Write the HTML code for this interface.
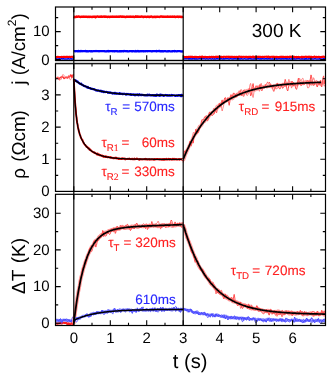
<!DOCTYPE html>
<html><head><meta charset="utf-8"><title>figure</title>
<style>
html,body{margin:0;padding:0;background:#fff;}
svg{display:block;font-family:"Liberation Sans",sans-serif;text-rendering:geometricPrecision;}
</style></head><body>
<svg width="332" height="383" viewBox="0 0 332 383">
<rect width="332" height="383" fill="#fff"/>
<rect x="55.0" y="60.8" width="271.0" height="2.6" fill="#d2d2d2"/>
<defs>
<clipPath id="c1"><rect x="55.5" y="7.0" width="270.0" height="53.4"/></clipPath>
<clipPath id="c2"><rect x="55.5" y="63.7" width="270.0" height="127.7"/></clipPath>
<clipPath id="c3"><rect x="55.5" y="194.3" width="270.0" height="131.2"/></clipPath>
</defs>
<g clip-path="url(#c1)"><polyline points="55.9,58.8 56.5,58.8 57.0,58.9 57.5,58.9 58.0,58.9 58.6,59.0 59.1,58.8 59.6,58.7 60.1,58.9 60.7,58.9 61.2,58.8 61.7,58.8 62.2,58.8 62.8,58.9 63.3,58.8 63.8,58.8 64.3,59.0 64.9,58.9 65.4,59.1 65.9,59.0 66.4,59.1 67.0,58.9 67.5,59.0 68.0,58.8 68.5,58.8 69.1,58.9 69.6,59.1 70.1,58.9 70.6,58.8 71.2,58.8 71.7,59.0 72.2,58.9 72.7,59.0 73.3,58.9 73.8,58.7" fill="none" stroke="#0000ff" stroke-width="1.5" stroke-linejoin="round" /><polyline points="73.8,51.3 74.3,51.2 74.8,51.1 75.3,51.3 75.8,51.2 76.3,51.2 76.8,51.2 77.3,51.3 77.8,51.2 78.3,51.0 78.8,51.4 79.3,51.1 79.9,51.2 80.4,51.3 80.9,51.0 81.4,51.1 81.9,51.3 82.4,51.2 82.9,51.1 83.4,51.2 83.9,51.1 84.4,51.2 84.9,51.1 85.4,51.0 85.9,51.3 86.4,51.2 86.9,51.3 87.4,51.2 87.9,51.3 88.4,51.3 88.9,51.2 89.4,51.1 89.9,51.1 90.4,51.3 90.9,51.3 91.4,51.1 92.0,51.4 92.5,51.3 93.0,51.2 93.5,51.1 94.0,51.1 94.5,51.2 95.0,51.2 95.5,51.2 96.0,51.0 96.5,51.2 97.0,51.2 97.5,51.2 98.0,51.2 98.5,51.2 99.0,51.3 99.5,51.2 100.0,51.2 100.5,51.1 101.0,51.1 101.5,51.2 102.0,51.1 102.5,51.2 103.0,51.1 103.5,51.2 104.1,51.1 104.6,51.3 105.1,51.2 105.6,51.4 106.1,51.4 106.6,51.2 107.1,51.3 107.6,51.2 108.1,50.9 108.6,51.3 109.1,51.3 109.6,51.2 110.1,51.1 110.6,51.2 111.1,51.2 111.6,51.1 112.1,51.1 112.6,51.3 113.1,51.2 113.6,51.2 114.1,51.3 114.6,51.2 115.1,51.3 115.6,51.1 116.2,51.2 116.7,51.2 117.2,51.3 117.7,51.2 118.2,51.4 118.7,51.3 119.2,51.2 119.7,51.4 120.2,51.1 120.7,51.4 121.2,51.1 121.7,51.3 122.2,51.1 122.7,51.2 123.2,51.4 123.7,51.1 124.2,51.0 124.7,51.2 125.2,51.2 125.7,51.2 126.2,51.3 126.7,51.1 127.2,51.3 127.7,51.2 128.3,51.3 128.8,51.3 129.3,51.3 129.8,51.1 130.3,51.2 130.8,51.1 131.3,51.2 131.8,51.3 132.3,51.2 132.8,51.3 133.3,51.2 133.8,51.2 134.3,51.2 134.8,51.4 135.3,51.3 135.8,51.0 136.3,51.3 136.8,51.3 137.3,51.2 137.8,51.0 138.3,51.4 138.8,51.2 139.3,51.3 139.8,51.4 140.4,51.1 140.9,51.2 141.4,51.2 141.9,51.3 142.4,51.1 142.9,51.3 143.4,51.2 143.9,51.3 144.4,51.3 144.9,51.1 145.4,51.3 145.9,51.2 146.4,51.2 146.9,51.2 147.4,51.3 147.9,51.1 148.4,51.2 148.9,51.2 149.4,51.2 149.9,51.1 150.4,51.1 150.9,51.2 151.4,51.3 151.9,51.4 152.5,51.1 153.0,51.1 153.5,51.2 154.0,51.1 154.5,51.1 155.0,51.1 155.5,51.1 156.0,51.3 156.5,51.0 157.0,51.3 157.5,51.1 158.0,51.1 158.5,51.1 159.0,51.0 159.5,51.0 160.0,51.3 160.5,51.4 161.0,51.1 161.5,51.3 162.0,51.2 162.5,51.1 163.0,51.4 163.5,51.4 164.1,51.2 164.6,51.2 165.1,51.2 165.6,51.2 166.1,51.3 166.6,51.4 167.1,51.2 167.6,51.3 168.1,51.4 168.6,51.1 169.1,51.2 169.6,51.2 170.1,51.3 170.6,51.3 171.1,51.3 171.6,51.3 172.1,51.2 172.6,51.3 173.1,51.2 173.6,51.2 174.1,51.0 174.6,51.4 175.1,51.1 175.6,51.2 176.2,51.2 176.7,51.4 177.2,51.3 177.7,51.1 178.2,51.2 178.7,51.2 179.2,51.2 179.7,51.1 180.2,51.2 180.7,51.4 181.2,51.3 181.7,51.4 182.2,51.6 182.7,51.3 183.2,51.1" fill="none" stroke="#0000ff" stroke-width="2.3" stroke-linejoin="round" /><polyline points="183.2,58.8 183.7,59.0 184.2,58.9 184.7,58.7 185.2,58.8 185.7,58.8 186.2,58.8 186.7,58.8 187.2,58.8 187.7,58.8 188.2,58.8 188.7,59.0 189.2,58.8 189.7,58.9 190.2,58.7 190.7,59.0 191.3,58.9 191.8,58.8 192.3,59.0 192.8,58.7 193.3,58.7 193.8,58.9 194.3,58.8 194.8,58.8 195.3,59.1 195.8,58.8 196.3,58.9 196.8,58.8 197.3,59.0 197.8,58.9 198.3,58.9 198.8,58.7 199.3,58.8 199.8,58.8 200.3,58.7 200.8,58.9 201.3,58.9 201.8,59.0 202.3,58.7 202.8,58.7 203.3,58.7 203.8,58.8 204.3,58.8 204.8,58.8 205.3,58.9 205.8,58.9 206.3,58.8 206.8,58.7 207.3,58.8 207.8,58.9 208.3,58.9 208.8,58.9 209.3,58.7 209.8,58.8 210.3,58.8 210.9,58.9 211.4,59.0 211.9,58.9 212.4,58.7 212.9,58.9 213.4,58.9 213.9,58.9 214.4,58.8 214.9,59.0 215.4,58.9 215.9,58.9 216.4,58.7 216.9,58.9 217.4,58.8 217.9,58.7 218.4,58.9 218.9,58.9 219.4,58.8 219.9,58.8 220.4,59.0 220.9,58.8 221.4,58.6 221.9,58.9 222.4,58.9 222.9,59.0 223.4,58.8 223.9,59.0 224.4,59.0 224.9,58.7 225.4,58.9 225.9,58.7 226.4,58.7 226.9,58.8 227.4,58.8 227.9,58.6 228.4,58.9 228.9,58.9 229.4,59.0 230.0,58.8 230.5,58.7 231.0,58.7 231.5,58.9 232.0,58.9 232.5,58.9 233.0,58.8 233.5,58.9 234.0,58.8 234.5,58.8 235.0,58.9 235.5,58.8 236.0,58.8 236.5,58.9 237.0,58.8 237.5,58.6 238.0,58.8 238.5,58.8 239.0,59.0 239.5,58.8 240.0,59.1 240.5,59.0 241.0,58.7 241.5,58.8 242.0,58.9 242.5,59.0 243.0,58.9 243.5,58.9 244.0,58.8 244.5,58.6 245.0,58.8 245.5,58.9 246.0,59.0 246.5,58.9 247.0,58.9 247.5,59.0 248.0,58.8 248.5,59.0 249.0,58.7 249.6,58.7 250.1,58.7 250.6,58.9 251.1,58.8 251.6,58.9 252.1,58.9 252.6,58.9 253.1,59.0 253.6,59.0 254.1,58.8 254.6,58.9 255.1,58.8 255.6,58.7 256.1,59.0 256.6,58.9 257.1,58.8 257.6,58.8 258.1,58.9 258.6,58.7 259.1,58.8 259.6,59.0 260.1,58.9 260.6,58.8 261.1,58.8 261.6,59.1 262.1,58.7 262.6,58.8 263.1,58.7 263.6,58.9 264.1,58.9 264.6,59.0 265.1,58.6 265.6,58.9 266.1,58.7 266.6,58.9 267.1,58.8 267.6,59.0 268.1,58.9 268.7,58.7 269.2,59.0 269.7,58.7 270.2,58.8 270.7,59.0 271.2,58.9 271.7,58.9 272.2,58.8 272.7,58.9 273.2,58.9 273.7,58.9 274.2,59.0 274.7,59.0 275.2,58.8 275.7,58.7 276.2,59.0 276.7,58.8 277.2,58.9 277.7,59.0 278.2,58.7 278.7,58.9 279.2,58.7 279.7,58.9 280.2,58.8 280.7,58.9 281.2,58.9 281.7,58.8 282.2,58.9 282.7,58.8 283.2,58.8 283.7,59.0 284.2,58.9 284.7,58.8 285.2,58.7 285.7,58.9 286.2,58.8 286.7,59.0 287.2,58.8 287.7,59.0 288.3,59.0 288.8,58.9 289.3,58.7 289.8,59.0 290.3,59.0 290.8,58.9 291.3,59.0 291.8,58.8 292.3,58.9 292.8,58.9 293.3,58.8 293.8,58.9 294.3,58.8 294.8,59.0 295.3,59.0 295.8,59.0 296.3,58.6 296.8,58.9 297.3,58.8 297.8,58.8 298.3,58.8 298.8,58.8 299.3,58.6 299.8,59.0 300.3,59.0 300.8,59.0 301.3,59.0 301.8,58.8 302.3,58.8 302.8,59.0 303.3,59.0 303.8,58.9 304.3,58.7 304.8,59.2 305.3,58.8 305.8,59.0 306.3,58.7 306.8,59.0 307.3,58.9 307.9,59.0 308.4,59.0 308.9,58.7 309.4,58.8 309.9,58.9 310.4,58.9 310.9,59.1 311.4,58.9 311.9,58.8 312.4,58.9 312.9,58.9 313.4,59.0 313.9,58.9 314.4,58.8 314.9,58.7 315.4,58.6 315.9,58.9 316.4,58.9 316.9,58.9 317.4,58.9 317.9,58.9 318.4,58.9 318.9,59.0 319.4,58.8 319.9,58.9 320.4,58.8 320.9,58.9 321.4,58.9 321.9,59.0 322.4,58.9 322.9,58.9 323.4,58.8 323.9,58.8 324.4,59.0 324.9,58.8 325.4,59.0" fill="none" stroke="#0000ff" stroke-width="1.5" stroke-linejoin="round" /><polyline points="55.9,57.0 56.5,57.0 57.0,57.3 57.5,56.9 58.0,56.9 58.6,57.0 59.1,57.0 59.6,57.0 60.1,57.1 60.7,57.0 61.2,57.0 61.7,56.9 62.2,57.1 62.8,56.9 63.3,56.9 63.8,57.0 64.3,57.0 64.9,56.8 65.4,57.2 65.9,56.9 66.4,56.9 67.0,56.9 67.5,56.9 68.0,57.0 68.5,57.0 69.1,56.8 69.6,56.9 70.1,56.9 70.6,57.2 71.2,56.8 71.7,56.7 72.2,56.8 72.7,56.9 73.3,57.2 73.8,56.8" fill="none" stroke="#ff0000" stroke-width="2.1" stroke-linejoin="round" /><polyline points="73.8,16.8 74.3,17.2 74.8,16.7 75.3,17.0 75.8,17.0 76.3,16.9 76.8,16.5 77.3,16.8 77.8,16.7 78.3,16.5 78.8,16.5 79.3,16.8 79.9,16.8 80.4,17.0 80.9,16.9 81.4,16.7 81.9,16.7 82.4,16.7 82.9,16.6 83.4,16.9 83.9,16.8 84.4,16.6 84.9,16.7 85.4,16.6 85.9,16.7 86.4,16.8 86.9,16.7 87.4,16.9 87.9,17.0 88.4,16.7 88.9,16.8 89.4,16.7 89.9,17.0 90.4,16.8 90.9,16.9 91.4,16.9 92.0,17.1 92.5,16.8 93.0,16.6 93.5,16.7 94.0,16.9 94.5,16.8 95.0,16.6 95.5,17.2 96.0,16.8 96.5,16.7 97.0,16.6 97.5,16.5 98.0,16.6 98.5,16.7 99.0,16.7 99.5,16.6 100.0,16.9 100.5,16.8 101.0,16.6 101.5,16.4 102.0,16.8 102.5,16.8 103.0,16.7 103.5,16.5 104.1,16.8 104.6,16.5 105.1,16.9 105.6,16.8 106.1,16.8 106.6,16.6 107.1,16.6 107.6,17.0 108.1,16.9 108.6,16.7 109.1,16.9 109.6,17.0 110.1,16.6 110.6,16.7 111.1,16.7 111.6,16.8 112.1,16.6 112.6,16.8 113.1,16.6 113.6,16.9 114.1,16.9 114.6,16.7 115.1,16.9 115.6,16.6 116.2,16.7 116.7,16.9 117.2,16.7 117.7,16.8 118.2,16.6 118.7,16.9 119.2,16.8 119.7,16.6 120.2,16.4 120.7,16.4 121.2,16.7 121.7,16.7 122.2,16.5 122.7,16.8 123.2,16.9 123.7,16.7 124.2,16.7 124.7,16.9 125.2,17.0 125.7,17.0 126.2,16.6 126.7,16.9 127.2,16.8 127.7,16.7 128.3,16.7 128.8,16.8 129.3,16.7 129.8,16.9 130.3,16.8 130.8,16.9 131.3,16.6 131.8,16.8 132.3,16.9 132.8,16.8 133.3,16.8 133.8,16.6 134.3,17.0 134.8,16.9 135.3,16.8 135.8,16.3 136.3,16.6 136.8,16.8 137.3,16.6 137.8,16.4 138.3,16.8 138.8,16.8 139.3,16.6 139.8,16.7 140.4,16.6 140.9,16.8 141.4,16.4 141.9,16.5 142.4,16.7 142.9,16.6 143.4,17.1 143.9,16.7 144.4,16.8 144.9,16.7 145.4,16.6 145.9,16.8 146.4,17.0 146.9,16.7 147.4,16.9 147.9,16.8 148.4,16.9 148.9,16.8 149.4,17.1 149.9,16.6 150.4,16.7 150.9,16.6 151.4,16.4 151.9,16.8 152.5,17.1 153.0,16.9 153.5,17.0 154.0,16.8 154.5,16.7 155.0,17.1 155.5,16.7 156.0,17.0 156.5,16.7 157.0,16.8 157.5,16.8 158.0,16.8 158.5,16.9 159.0,16.9 159.5,17.0 160.0,16.8 160.5,16.4 161.0,16.4 161.5,16.5 162.0,16.6 162.5,16.9 163.0,16.5 163.5,16.8 164.1,16.8 164.6,16.8 165.1,16.7 165.6,16.8 166.1,16.8 166.6,16.9 167.1,16.8 167.6,16.4 168.1,16.8 168.6,16.8 169.1,16.7 169.6,16.6 170.1,16.9 170.6,16.8 171.1,16.6 171.6,16.7 172.1,16.7 172.6,16.5 173.1,16.9 173.6,16.7 174.1,16.8 174.6,16.5 175.1,17.1 175.6,16.9 176.2,16.8 176.7,16.6 177.2,16.7 177.7,16.5 178.2,17.0 178.7,16.6 179.2,16.8 179.7,16.9 180.2,16.7 180.7,16.9 181.2,17.1 181.7,16.8 182.2,17.0 182.7,16.9 183.2,16.7" fill="none" stroke="#ff0000" stroke-width="2.4" stroke-linejoin="round" /><polyline points="183.2,56.9 183.7,56.7 184.2,57.0 184.7,57.2 185.2,57.1 185.7,57.1 186.2,57.1 186.7,56.9 187.2,57.0 187.7,57.3 188.2,56.8 188.7,57.0 189.2,56.9 189.7,56.9 190.2,56.8 190.7,56.9 191.3,56.7 191.8,56.9 192.3,56.9 192.8,56.9 193.3,57.2 193.8,57.0 194.3,57.0 194.8,56.9 195.3,57.2 195.8,56.7 196.3,56.9 196.8,57.1 197.3,57.2 197.8,57.0 198.3,57.0 198.8,57.1 199.3,56.9 199.8,57.0 200.3,56.8 200.8,57.1 201.3,56.9 201.8,56.8 202.3,56.5 202.8,57.1 203.3,57.0 203.8,57.1 204.3,56.8 204.8,57.1 205.3,57.0 205.8,56.9 206.3,57.1 206.8,57.1 207.3,57.0 207.8,57.3 208.3,57.2 208.8,57.0 209.3,56.9 209.8,57.0 210.3,57.2 210.9,57.0 211.4,56.8 211.9,56.8 212.4,57.0 212.9,57.1 213.4,56.8 213.9,57.0 214.4,57.1 214.9,57.1 215.4,56.7 215.9,56.9 216.4,56.7 216.9,57.0 217.4,56.8 217.9,57.0 218.4,57.0 218.9,56.5 219.4,56.8 219.9,57.0 220.4,57.0 220.9,56.9 221.4,56.7 221.9,57.0 222.4,57.2 222.9,57.0 223.4,56.9 223.9,56.9 224.4,56.7 224.9,56.9 225.4,56.8 225.9,57.1 226.4,56.8 226.9,56.6 227.4,56.8 227.9,56.9 228.4,56.9 228.9,56.6 229.4,57.1 230.0,57.0 230.5,56.9 231.0,56.8 231.5,57.0 232.0,56.9 232.5,57.0 233.0,56.9 233.5,57.0 234.0,57.1 234.5,56.9 235.0,56.8 235.5,57.1 236.0,57.0 236.5,56.8 237.0,57.1 237.5,56.9 238.0,57.1 238.5,56.7 239.0,56.6 239.5,56.6 240.0,57.0 240.5,56.8 241.0,56.9 241.5,56.9 242.0,56.7 242.5,57.2 243.0,56.8 243.5,56.9 244.0,56.7 244.5,56.9 245.0,57.1 245.5,56.9 246.0,56.8 246.5,56.9 247.0,56.9 247.5,57.0 248.0,57.3 248.5,56.8 249.0,56.8 249.6,56.9 250.1,56.9 250.6,56.8 251.1,57.0 251.6,57.1 252.1,57.0 252.6,56.7 253.1,57.2 253.6,56.7 254.1,57.0 254.6,57.1 255.1,56.7 255.6,57.0 256.1,57.2 256.6,57.0 257.1,56.8 257.6,56.7 258.1,57.0 258.6,56.9 259.1,56.8 259.6,57.0 260.1,56.9 260.6,56.9 261.1,57.0 261.6,57.0 262.1,56.9 262.6,56.9 263.1,57.0 263.6,57.0 264.1,56.8 264.6,56.9 265.1,56.8 265.6,56.7 266.1,56.8 266.6,56.6 267.1,57.1 267.6,56.8 268.1,57.0 268.7,56.6 269.2,56.7 269.7,57.3 270.2,57.1 270.7,56.8 271.2,56.8 271.7,56.8 272.2,57.0 272.7,56.9 273.2,56.8 273.7,57.0 274.2,56.8 274.7,57.3 275.2,56.8 275.7,57.1 276.2,56.8 276.7,57.0 277.2,57.1 277.7,56.9 278.2,57.1 278.7,57.1 279.2,57.2 279.7,56.9 280.2,56.9 280.7,56.8 281.2,57.0 281.7,56.8 282.2,56.9 282.7,57.0 283.2,56.8 283.7,56.8 284.2,57.0 284.7,57.0 285.2,57.0 285.7,56.9 286.2,57.1 286.7,56.8 287.2,57.0 287.7,56.9 288.3,57.1 288.8,56.9 289.3,56.9 289.8,57.0 290.3,56.6 290.8,56.9 291.3,56.6 291.8,56.8 292.3,57.1 292.8,57.0 293.3,56.9 293.8,56.9 294.3,56.9 294.8,57.0 295.3,57.2 295.8,57.0 296.3,57.3 296.8,56.9 297.3,57.1 297.8,57.1 298.3,57.0 298.8,56.9 299.3,57.2 299.8,57.2 300.3,57.1 300.8,57.3 301.3,57.1 301.8,56.7 302.3,57.1 302.8,56.8 303.3,57.2 303.8,56.9 304.3,57.0 304.8,57.0 305.3,56.8 305.8,56.6 306.3,56.9 306.8,56.9 307.3,57.1 307.9,56.8 308.4,57.0 308.9,56.8 309.4,56.9 309.9,56.6 310.4,57.3 310.9,57.0 311.4,56.8 311.9,57.0 312.4,57.1 312.9,57.0 313.4,57.2 313.9,56.9 314.4,56.5 314.9,56.7 315.4,57.1 315.9,57.1 316.4,57.0 316.9,56.8 317.4,57.1 317.9,57.1 318.4,56.8 318.9,56.8 319.4,57.0 319.9,57.1 320.4,57.2 320.9,57.1 321.4,57.3 321.9,56.8 322.4,57.0 322.9,56.9 323.4,56.6 323.9,56.7 324.4,57.1 324.9,56.8 325.4,56.7" fill="none" stroke="#ff0000" stroke-width="2.1" stroke-linejoin="round" /></g>
<g clip-path="url(#c2)"><polyline points="55.9,78.3 56.6,78.3 57.3,77.9 57.9,77.6 58.6,79.0 59.2,79.2 59.9,77.9 60.6,77.4 61.2,77.0 61.9,77.0 62.5,76.8 63.2,77.2 63.9,78.5 64.5,78.3 65.2,77.7 65.9,77.3 66.5,77.3 67.2,78.1 67.8,77.8 68.5,76.7 69.2,76.9 69.8,76.8 70.5,74.9 71.2,75.1 71.8,77.3 72.5,76.5 73.1,74.7 73.8,75.4" fill="none" stroke="#ff3030" stroke-width="1.4" stroke-linejoin="round" /><polyline points="55.9,78.8 56.6,78.8 57.3,77.8 57.9,76.6 58.6,77.7 59.2,79.9 59.9,80.3 60.6,79.5 61.2,79.4 61.9,77.4 62.5,74.8 63.2,74.7 63.9,75.3 64.5,75.8 65.2,76.8 65.9,77.7 66.5,77.2 67.2,77.1 67.8,77.3 68.5,75.4 69.2,76.5 69.8,79.3 70.5,79.8 71.2,79.0 71.8,78.3 72.5,77.3 73.1,76.3 73.8,80.1" fill="none" stroke="#ff6a6a" stroke-width="0.8" stroke-linejoin="round" /><polyline points="73.8,79.6 74.1,80.2 74.5,80.0 74.8,79.9 75.1,80.3 75.5,81.0 75.8,81.1 76.1,80.7 76.5,81.3 76.8,81.6 77.1,81.6 77.5,81.4 77.8,81.9 78.1,82.4 78.5,82.6 78.8,82.7 79.2,83.3 79.5,83.6 79.8,83.5 80.2,83.9 80.5,83.9 80.8,84.0 81.2,83.6 81.5,84.6 81.8,84.6 82.2,84.8 82.5,84.8 82.8,84.8 83.2,85.4 83.5,85.7 83.8,86.0 84.2,86.0 84.5,85.8 84.8,86.1 85.2,86.5 85.5,86.5 85.8,86.5 86.2,86.5 86.5,87.0 86.8,87.0 87.2,87.6 87.5,87.5 87.9,86.9 88.2,88.0 88.5,87.7 88.9,87.7 89.2,88.0 89.5,88.2 89.9,88.1 90.2,88.2 90.5,88.4 90.9,88.9 91.2,88.6 91.5,88.9 91.9,88.9 92.2,88.8 92.5,88.8 92.9,88.9 93.2,89.3 93.5,89.1 93.9,89.1 94.2,89.2 94.5,89.3 94.9,89.7 95.2,89.8 95.5,89.7 95.9,90.3 96.2,90.0 96.6,90.3 96.9,90.3 97.2,90.8 97.6,90.6 97.9,90.5 98.2,90.3 98.6,90.4 98.9,90.7 99.2,90.9 99.6,91.1 99.9,90.9 100.2,91.1 100.6,90.9 100.9,90.7 101.2,91.3 101.6,91.7 101.9,91.6 102.2,91.8 102.6,91.8 102.9,91.2 103.2,91.6 103.6,92.1 103.9,91.6 104.2,91.5 104.6,92.0 104.9,92.1 105.3,92.1 105.6,92.0 105.9,91.9 106.3,91.9 106.6,91.9 106.9,92.0 107.3,92.0 107.6,92.2 107.9,92.8 108.3,92.5 108.6,92.4 108.9,92.7 109.3,92.4 109.6,92.8 109.9,93.0 110.3,92.4 110.6,92.6 110.9,92.8 111.3,92.7 111.6,92.7 111.9,92.9 112.3,93.6 112.6,93.2 112.9,93.2 113.3,93.4 113.6,93.1 114.0,92.9 114.3,93.4 114.6,93.6 115.0,92.8 115.3,93.5 115.6,93.7 116.0,93.4 116.3,93.3 116.6,93.7 117.0,93.3 117.3,93.7 117.6,93.8 118.0,93.6 118.3,93.5 118.6,93.8 119.0,93.6 119.3,93.8 119.6,93.0 120.0,94.0 120.3,93.5 120.6,93.9 121.0,93.9 121.3,93.7 121.6,93.7 122.0,93.6 122.3,93.9 122.6,94.2 123.0,94.2 123.3,93.9 123.7,93.9 124.0,93.7 124.3,94.0 124.7,93.9 125.0,93.8 125.3,94.2 125.7,94.6 126.0,94.5 126.3,94.6 126.7,93.9 127.0,94.5 127.3,94.0 127.7,94.2 128.0,93.9 128.3,94.1 128.7,94.4 129.0,94.5 129.3,94.4 129.7,94.4 130.0,94.6 130.3,94.5 130.7,94.1 131.0,95.0 131.3,94.5 131.7,94.8 132.0,94.5 132.4,94.4 132.7,94.6 133.0,94.4 133.4,95.0 133.7,94.4 134.0,94.8 134.4,94.5 134.7,94.6 135.0,95.4 135.4,94.9 135.7,94.7 136.0,94.3 136.4,94.7 136.7,94.7 137.0,95.1 137.4,94.4 137.7,94.3 138.0,94.8 138.4,94.9 138.7,95.3 139.0,94.6 139.4,94.2 139.7,94.7 140.0,94.6 140.4,94.8 140.7,95.2 141.1,94.6 141.4,95.2 141.7,95.0 142.1,94.9 142.4,94.7 142.7,94.9 143.1,94.9 143.4,95.2 143.7,95.3 144.1,95.0 144.4,95.2 144.7,95.4 145.1,95.3 145.4,95.2 145.7,95.5 146.1,95.4 146.4,95.5 146.7,95.0 147.1,95.0 147.4,94.6 147.7,95.5 148.1,95.3 148.4,94.9 148.7,95.2 149.1,95.2 149.4,94.7 149.8,95.2 150.1,95.4 150.4,95.5 150.8,95.1 151.1,95.1 151.4,95.5 151.8,95.4 152.1,95.0 152.4,95.0 152.8,95.3 153.1,95.0 153.4,95.0 153.8,95.7 154.1,95.3 154.4,95.1 154.8,95.4 155.1,95.8 155.4,95.3 155.8,95.0 156.1,94.8 156.4,95.8 156.8,94.6 157.1,95.5 157.4,95.0 157.8,94.9 158.1,95.0 158.5,95.2 158.8,95.6 159.1,95.1 159.5,95.5 159.8,95.9 160.1,94.6 160.5,95.1 160.8,94.8 161.1,95.5 161.5,94.9 161.8,94.9 162.1,94.9 162.5,95.3 162.8,95.6 163.1,95.4 163.5,95.9 163.8,95.8 164.1,95.3 164.5,95.6 164.8,95.4 165.1,95.4 165.5,94.9 165.8,95.0 166.1,95.4 166.5,95.0 166.8,95.6 167.1,95.5 167.5,95.1 167.8,95.7 168.2,95.4 168.5,95.7 168.8,95.3 169.2,95.0 169.5,95.6 169.8,95.3 170.2,95.6 170.5,95.7 170.8,95.7 171.2,95.0 171.5,94.8 171.8,95.3 172.2,95.6 172.5,95.2 172.8,95.5 173.2,95.2 173.5,95.3 173.8,95.3 174.2,95.3 174.5,95.6 174.8,95.5 175.2,95.9 175.5,95.5 175.8,95.8 176.2,95.5 176.5,95.7 176.9,95.4 177.2,95.3 177.5,95.8 177.9,95.6 178.2,95.7 178.5,95.2 178.9,95.0 179.2,95.2 179.5,95.5 179.9,95.1 180.2,95.8 180.5,95.1 180.9,95.6 181.2,96.2 181.5,94.8 181.9,95.0 182.2,95.7 182.5,95.4 182.9,95.5 183.2,95.4" fill="none" stroke="#0000e0" stroke-width="2.1" stroke-linejoin="round" /><polyline points="73.8,79.4 74.1,79.7 74.5,80.0 74.8,80.2 75.1,80.4 75.5,80.7 75.8,80.9 76.1,81.2 76.5,81.4 76.8,81.6 77.1,81.8 77.5,82.1 77.8,82.3 78.1,82.5 78.5,82.7 78.8,82.9 79.2,83.1 79.5,83.3 79.8,83.5 80.2,83.7 80.5,83.9 80.8,84.1 81.2,84.2 81.5,84.4 81.8,84.6 82.2,84.8 82.5,84.9 82.8,85.1 83.2,85.3 83.5,85.4 83.8,85.6 84.2,85.8 84.5,85.9 84.8,86.1 85.2,86.2 85.5,86.4 85.8,86.5 86.2,86.7 86.5,86.8 86.8,86.9 87.2,87.1 87.5,87.2 87.9,87.4 88.2,87.5 88.5,87.6 88.9,87.7 89.2,87.9 89.5,88.0 89.9,88.1 90.2,88.2 90.5,88.3 90.9,88.5 91.2,88.6 91.5,88.7 91.9,88.8 92.2,88.9 92.5,89.0 92.9,89.1 93.2,89.2 93.5,89.3 93.9,89.4 94.2,89.5 94.5,89.6 94.9,89.7 95.2,89.8 95.5,89.9 95.9,90.0 96.2,90.1 96.6,90.2 96.9,90.2 97.2,90.3 97.6,90.4 97.9,90.5 98.2,90.6 98.6,90.7 98.9,90.7 99.2,90.8 99.6,90.9 99.9,91.0 100.2,91.0 100.6,91.1 100.9,91.2 101.2,91.2 101.6,91.3 101.9,91.4 102.2,91.4 102.6,91.5 102.9,91.6 103.2,91.6 103.6,91.7 103.9,91.8 104.2,91.8 104.6,91.9 104.9,91.9 105.3,92.0 105.6,92.1 105.9,92.1 106.3,92.2 106.6,92.2 106.9,92.3 107.3,92.3 107.6,92.4 107.9,92.4 108.3,92.5 108.6,92.5 108.9,92.6 109.3,92.6 109.6,92.7 109.9,92.7 110.3,92.8 110.6,92.8 110.9,92.8 111.3,92.9 111.6,92.9 111.9,93.0 112.3,93.0 112.6,93.1 112.9,93.1 113.3,93.1 113.6,93.2 114.0,93.2 114.3,93.2 114.6,93.3 115.0,93.3 115.3,93.4 115.6,93.4 116.0,93.4 116.3,93.5 116.6,93.5 117.0,93.5 117.3,93.6 117.6,93.6 118.0,93.6 118.3,93.7 118.6,93.7 119.0,93.7 119.3,93.7 119.6,93.8 120.0,93.8 120.3,93.8 120.6,93.9 121.0,93.9 121.3,93.9 121.6,93.9 122.0,94.0 122.3,94.0 122.6,94.0 123.0,94.0 123.3,94.1 123.7,94.1 124.0,94.1 124.3,94.1 124.7,94.1 125.0,94.2 125.3,94.2 125.7,94.2 126.0,94.2 126.3,94.3 126.7,94.3 127.0,94.3 127.3,94.3 127.7,94.3 128.0,94.4 128.3,94.4 128.7,94.4 129.0,94.4 129.3,94.4 129.7,94.4 130.0,94.5 130.3,94.5 130.7,94.5 131.0,94.5 131.3,94.5 131.7,94.5 132.0,94.6 132.4,94.6 132.7,94.6 133.0,94.6 133.4,94.6 133.7,94.6 134.0,94.7 134.4,94.7 134.7,94.7 135.0,94.7 135.4,94.7 135.7,94.7 136.0,94.7 136.4,94.8 136.7,94.8 137.0,94.8 137.4,94.8 137.7,94.8 138.0,94.8 138.4,94.8 138.7,94.8 139.0,94.8 139.4,94.9 139.7,94.9 140.0,94.9 140.4,94.9 140.7,94.9 141.1,94.9 141.4,94.9 141.7,94.9 142.1,94.9 142.4,94.9 142.7,95.0 143.1,95.0 143.4,95.0 143.7,95.0 144.1,95.0 144.4,95.0 144.7,95.0 145.1,95.0 145.4,95.0 145.7,95.0 146.1,95.0 146.4,95.1 146.7,95.1 147.1,95.1 147.4,95.1 147.7,95.1 148.1,95.1 148.4,95.1 148.7,95.1 149.1,95.1 149.4,95.1 149.8,95.1 150.1,95.1 150.4,95.1 150.8,95.1 151.1,95.2 151.4,95.2 151.8,95.2 152.1,95.2 152.4,95.2 152.8,95.2 153.1,95.2 153.4,95.2 153.8,95.2 154.1,95.2 154.4,95.2 154.8,95.2 155.1,95.2 155.4,95.2 155.8,95.2 156.1,95.2 156.4,95.2 156.8,95.2 157.1,95.3 157.4,95.3 157.8,95.3 158.1,95.3 158.5,95.3 158.8,95.3 159.1,95.3 159.5,95.3 159.8,95.3 160.1,95.3 160.5,95.3 160.8,95.3 161.1,95.3 161.5,95.3 161.8,95.3 162.1,95.3 162.5,95.3 162.8,95.3 163.1,95.3 163.5,95.3 163.8,95.3 164.1,95.3 164.5,95.3 164.8,95.3 165.1,95.3 165.5,95.3 165.8,95.4 166.1,95.4 166.5,95.4 166.8,95.4 167.1,95.4 167.5,95.4 167.8,95.4 168.2,95.4 168.5,95.4 168.8,95.4 169.2,95.4 169.5,95.4 169.8,95.4 170.2,95.4 170.5,95.4 170.8,95.4 171.2,95.4 171.5,95.4 171.8,95.4 172.2,95.4 172.5,95.4 172.8,95.4 173.2,95.4 173.5,95.4 173.8,95.4 174.2,95.4 174.5,95.4 174.8,95.4 175.2,95.4 175.5,95.4 175.8,95.4 176.2,95.4 176.5,95.4 176.9,95.4 177.2,95.4 177.5,95.4 177.9,95.4 178.2,95.4 178.5,95.4 178.9,95.4 179.2,95.4 179.5,95.4 179.9,95.4 180.2,95.4 180.5,95.4 180.9,95.5 181.2,95.5 181.5,95.5 181.9,95.5 182.2,95.5 182.5,95.5 182.9,95.5 183.2,95.5" fill="none" stroke="#000" stroke-width="1.4" stroke-linejoin="round" /><polyline points="73.8,79.2 74.1,86.2 74.5,92.3 74.8,97.9 75.1,102.5 75.5,107.1 75.8,110.3 76.1,114.4 76.5,117.1 76.8,120.3 77.1,122.5 77.5,124.0 77.8,126.4 78.1,127.8 78.5,129.5 78.8,131.1 79.2,132.2 79.5,133.5 79.8,134.6 80.2,135.2 80.5,136.2 80.8,137.4 81.2,138.3 81.5,138.7 81.8,139.5 82.2,139.9 82.5,140.1 82.8,141.2 83.2,142.0 83.5,142.6 83.8,143.3 84.2,143.8 84.5,144.3 84.8,144.6 85.2,145.0 85.5,145.1 85.8,145.8 86.2,146.2 86.5,146.8 86.8,146.5 87.2,147.1 87.5,147.1 87.9,147.7 88.2,147.8 88.5,148.6 88.9,148.7 89.2,148.4 89.5,149.7 89.9,149.4 90.2,149.5 90.5,150.1 90.9,150.3 91.2,150.4 91.5,151.1 91.9,151.1 92.2,151.6 92.5,151.8 92.9,152.0 93.2,152.1 93.5,152.2 93.9,152.3 94.2,153.0 94.5,152.3 94.9,152.7 95.2,153.0 95.5,153.4 95.9,153.5 96.2,153.5 96.6,153.7 96.9,154.4 97.2,153.9 97.6,153.5 97.9,154.9 98.2,154.3 98.6,154.6 98.9,154.8 99.2,154.5 99.6,155.3 99.9,155.1 100.2,154.9 100.6,155.4 100.9,155.6 101.2,155.5 101.6,155.8 101.9,155.4 102.2,156.1 102.6,155.7 102.9,156.4 103.2,156.0 103.6,156.3 103.9,157.0 104.2,156.4 104.6,156.8 104.9,156.7 105.3,156.2 105.6,157.0 105.9,157.1 106.3,156.5 106.6,156.9 106.9,156.6 107.3,157.0 107.6,157.3 107.9,157.2 108.3,156.9 108.6,157.0 108.9,157.3 109.3,157.4 109.6,157.5 109.9,157.6 110.3,157.0 110.6,157.6 110.9,157.9 111.3,157.8 111.6,157.5 111.9,157.6 112.3,157.8 112.6,158.0 112.9,157.9 113.3,158.4 113.6,158.3 114.0,157.8 114.3,158.2 114.6,158.0 115.0,157.8 115.3,158.0 115.6,158.2 116.0,157.6 116.3,158.1 116.6,158.4 117.0,158.1 117.3,158.2 117.6,158.6 118.0,158.4 118.3,158.4 118.6,158.9 119.0,158.5 119.3,158.5 119.6,158.6 120.0,159.0 120.3,158.6 120.6,158.6 121.0,158.6 121.3,158.9 121.6,158.4 122.0,159.0 122.3,158.7 122.6,158.3 123.0,158.9 123.3,158.8 123.7,158.4 124.0,158.8 124.3,158.8 124.7,158.7 125.0,158.5 125.3,159.4 125.7,159.0 126.0,159.1 126.3,159.1 126.7,159.1 127.0,159.1 127.3,158.8 127.7,159.1 128.0,158.9 128.3,158.8 128.7,159.1 129.0,158.9 129.3,158.5 129.7,158.9 130.0,159.1 130.3,159.0 130.7,159.2 131.0,158.9 131.3,158.8 131.7,159.2 132.0,159.1 132.4,158.7 132.7,159.2 133.0,159.0 133.4,159.3 133.7,159.3 134.0,159.2 134.4,158.5 134.7,159.2 135.0,159.2 135.4,159.2 135.7,159.1 136.0,158.9 136.4,159.1 136.7,158.6 137.0,159.1 137.4,158.7 137.7,159.0 138.0,159.0 138.4,159.5 138.7,159.2 139.0,159.2 139.4,159.2 139.7,159.7 140.0,158.9 140.4,159.3 140.7,159.3 141.1,159.2 141.4,159.2 141.7,159.1 142.1,159.5 142.4,159.4 142.7,159.1 143.1,159.1 143.4,159.3 143.7,159.3 144.1,159.4 144.4,159.2 144.7,158.9 145.1,159.5 145.4,158.8 145.7,159.0 146.1,159.3 146.4,159.0 146.7,159.6 147.1,159.7 147.4,159.6 147.7,159.3 148.1,159.3 148.4,159.4 148.7,159.2 149.1,159.8 149.4,159.1 149.8,159.6 150.1,159.4 150.4,159.3 150.8,159.5 151.1,159.6 151.4,159.5 151.8,159.2 152.1,159.1 152.4,159.1 152.8,159.5 153.1,159.5 153.4,159.5 153.8,159.1 154.1,159.8 154.4,158.9 154.8,159.4 155.1,159.5 155.4,159.2 155.8,159.0 156.1,159.2 156.4,159.0 156.8,159.2 157.1,158.9 157.4,158.9 157.8,159.3 158.1,158.9 158.5,159.2 158.8,159.2 159.1,159.5 159.5,159.3 159.8,159.1 160.1,159.6 160.5,159.1 160.8,159.2 161.1,159.2 161.5,159.8 161.8,159.3 162.1,159.1 162.5,159.5 162.8,159.3 163.1,159.9 163.5,159.1 163.8,159.5 164.1,159.1 164.5,159.8 164.8,159.1 165.1,159.3 165.5,159.1 165.8,159.5 166.1,159.4 166.5,158.7 166.8,159.5 167.1,159.5 167.5,159.4 167.8,159.5 168.2,159.0 168.5,158.8 168.8,159.5 169.2,159.7 169.5,159.0 169.8,159.0 170.2,159.1 170.5,159.0 170.8,159.5 171.2,159.3 171.5,159.6 171.8,159.7 172.2,159.0 172.5,159.5 172.8,158.7 173.2,159.3 173.5,159.5 173.8,159.1 174.2,158.8 174.5,159.2 174.8,159.6 175.2,159.2 175.5,158.9 175.8,159.4 176.2,159.5 176.5,159.0 176.9,159.3 177.2,159.6 177.5,159.4 177.9,159.5 178.2,159.2 178.5,159.3 178.9,159.0 179.2,159.1 179.5,159.7 179.9,159.2 180.2,159.1 180.5,159.2 180.9,159.0 181.2,159.4 181.5,159.5 181.9,159.1 182.2,159.6 182.5,159.9 182.9,159.0 183.2,159.5" fill="none" stroke="#e00000" stroke-width="1.9" stroke-linejoin="round" /><polyline points="73.8,78.8 74.1,86.1 74.5,92.4 74.8,97.9 75.1,102.8 75.5,107.1 75.8,110.9 76.1,114.2 76.5,117.2 76.8,119.8 77.1,122.2 77.5,124.3 77.8,126.2 78.1,127.9 78.5,129.5 78.8,130.9 79.2,132.2 79.5,133.3 79.8,134.4 80.2,135.4 80.5,136.4 80.8,137.2 81.2,138.0 81.5,138.8 81.8,139.5 82.2,140.2 82.5,140.8 82.8,141.4 83.2,142.0 83.5,142.5 83.8,143.0 84.2,143.5 84.5,144.0 84.8,144.5 85.2,144.9 85.5,145.3 85.8,145.7 86.2,146.1 86.5,146.5 86.8,146.9 87.2,147.2 87.5,147.6 87.9,147.9 88.2,148.2 88.5,148.5 88.9,148.8 89.2,149.1 89.5,149.4 89.9,149.7 90.2,150.0 90.5,150.2 90.9,150.5 91.2,150.7 91.5,150.9 91.9,151.2 92.2,151.4 92.5,151.6 92.9,151.8 93.2,152.0 93.5,152.2 93.9,152.4 94.2,152.6 94.5,152.8 94.9,153.0 95.2,153.2 95.5,153.3 95.9,153.5 96.2,153.6 96.6,153.8 96.9,154.0 97.2,154.1 97.6,154.2 97.9,154.4 98.2,154.5 98.6,154.6 98.9,154.8 99.2,154.9 99.6,155.0 99.9,155.1 100.2,155.3 100.6,155.4 100.9,155.5 101.2,155.6 101.6,155.7 101.9,155.8 102.2,155.9 102.6,156.0 102.9,156.1 103.2,156.1 103.6,156.2 103.9,156.3 104.2,156.4 104.6,156.5 104.9,156.6 105.3,156.6 105.6,156.7 105.9,156.8 106.3,156.8 106.6,156.9 106.9,157.0 107.3,157.0 107.6,157.1 107.9,157.2 108.3,157.2 108.6,157.3 108.9,157.3 109.3,157.4 109.6,157.4 109.9,157.5 110.3,157.5 110.6,157.6 110.9,157.6 111.3,157.7 111.6,157.7 111.9,157.8 112.3,157.8 112.6,157.9 112.9,157.9 113.3,157.9 113.6,158.0 114.0,158.0 114.3,158.0 114.6,158.1 115.0,158.1 115.3,158.1 115.6,158.2 116.0,158.2 116.3,158.2 116.6,158.3 117.0,158.3 117.3,158.3 117.6,158.3 118.0,158.4 118.3,158.4 118.6,158.4 119.0,158.4 119.3,158.5 119.6,158.5 120.0,158.5 120.3,158.5 120.6,158.6 121.0,158.6 121.3,158.6 121.6,158.6 122.0,158.6 122.3,158.7 122.6,158.7 123.0,158.7 123.3,158.7 123.7,158.7 124.0,158.7 124.3,158.8 124.7,158.8 125.0,158.8 125.3,158.8 125.7,158.8 126.0,158.8 126.3,158.8 126.7,158.8 127.0,158.9 127.3,158.9 127.7,158.9 128.0,158.9 128.3,158.9 128.7,158.9 129.0,158.9 129.3,158.9 129.7,158.9 130.0,159.0 130.3,159.0 130.7,159.0 131.0,159.0 131.3,159.0 131.7,159.0 132.0,159.0 132.4,159.0 132.7,159.0 133.0,159.0 133.4,159.0 133.7,159.0 134.0,159.1 134.4,159.1 134.7,159.1 135.0,159.1 135.4,159.1 135.7,159.1 136.0,159.1 136.4,159.1 136.7,159.1 137.0,159.1 137.4,159.1 137.7,159.1 138.0,159.1 138.4,159.1 138.7,159.1 139.0,159.1 139.4,159.1 139.7,159.1 140.0,159.2 140.4,159.2 140.7,159.2 141.1,159.2 141.4,159.2 141.7,159.2 142.1,159.2 142.4,159.2 142.7,159.2 143.1,159.2 143.4,159.2 143.7,159.2 144.1,159.2 144.4,159.2 144.7,159.2 145.1,159.2 145.4,159.2 145.7,159.2 146.1,159.2 146.4,159.2 146.7,159.2 147.1,159.2 147.4,159.2 147.7,159.2 148.1,159.2 148.4,159.2 148.7,159.2 149.1,159.2 149.4,159.2 149.8,159.2 150.1,159.2 150.4,159.2 150.8,159.2 151.1,159.2 151.4,159.2 151.8,159.2 152.1,159.2 152.4,159.2 152.8,159.2 153.1,159.2 153.4,159.3 153.8,159.3 154.1,159.3 154.4,159.3 154.8,159.3 155.1,159.3 155.4,159.3 155.8,159.3 156.1,159.3 156.4,159.3 156.8,159.3 157.1,159.3 157.4,159.3 157.8,159.3 158.1,159.3 158.5,159.3 158.8,159.3 159.1,159.3 159.5,159.3 159.8,159.3 160.1,159.3 160.5,159.3 160.8,159.3 161.1,159.3 161.5,159.3 161.8,159.3 162.1,159.3 162.5,159.3 162.8,159.3 163.1,159.3 163.5,159.3 163.8,159.3 164.1,159.3 164.5,159.3 164.8,159.3 165.1,159.3 165.5,159.3 165.8,159.3 166.1,159.3 166.5,159.3 166.8,159.3 167.1,159.3 167.5,159.3 167.8,159.3 168.2,159.3 168.5,159.3 168.8,159.3 169.2,159.3 169.5,159.3 169.8,159.3 170.2,159.3 170.5,159.3 170.8,159.3 171.2,159.3 171.5,159.3 171.8,159.3 172.2,159.3 172.5,159.3 172.8,159.3 173.2,159.3 173.5,159.3 173.8,159.3 174.2,159.3 174.5,159.3 174.8,159.3 175.2,159.3 175.5,159.3 175.8,159.3 176.2,159.3 176.5,159.3 176.9,159.3 177.2,159.3 177.5,159.3 177.9,159.3 178.2,159.3 178.5,159.3 178.9,159.3 179.2,159.3 179.5,159.3 179.9,159.3 180.2,159.3 180.5,159.3 180.9,159.3 181.2,159.3 181.5,159.3 181.9,159.3 182.2,159.3 182.5,159.3 182.9,159.3 183.2,159.3" fill="none" stroke="#000" stroke-width="1.25" stroke-linejoin="round" /><polyline points="183.2,160.5 183.8,159.2 184.5,157.3 185.1,155.2 185.7,153.8 186.4,152.8 187.0,151.0 187.6,149.8 188.2,148.5 188.9,146.4 189.5,145.4 190.1,144.2 190.8,142.3 191.4,141.3 192.0,140.3 192.7,138.5 193.3,137.2 193.9,136.4 194.5,135.5 195.2,134.4 195.8,133.3 196.4,132.7 197.1,131.4 197.7,129.5 198.3,128.8 198.9,127.8 199.6,126.3 200.2,126.1 200.8,126.0 201.5,125.1 202.1,124.2 202.7,122.6 203.3,121.6 204.0,121.7 204.6,121.2 205.2,120.1 205.9,119.4 206.5,118.8 207.1,118.2 207.8,118.1 208.4,117.2 209.0,116.0 209.6,115.1 210.3,114.5 210.9,114.0 211.5,113.0 212.2,112.5 212.8,112.5 213.4,112.4 214.0,111.5 214.7,110.3 215.3,109.8 215.9,108.8 216.6,107.4 217.2,106.4 217.8,106.2 218.5,106.7 219.1,106.6 219.7,105.4 220.3,104.5 221.0,104.0 221.6,103.6 222.2,102.9 222.9,102.4 223.5,102.2 224.1,101.9 224.7,101.7 225.4,101.4 226.0,100.8 226.6,100.4 227.3,100.0 227.9,99.3 228.5,99.1 229.2,98.9 229.8,98.9 230.4,98.3 231.0,97.4 231.7,98.0 232.3,98.7 232.9,98.2 233.6,96.8 234.2,95.6 234.8,95.4 235.4,95.8 236.1,96.0 236.7,95.4 237.3,94.3 238.0,94.0 238.6,94.4 239.2,94.2 239.9,94.1 240.5,94.4 241.1,94.0 241.7,94.2 242.4,94.4 243.0,93.1 243.6,92.4 244.3,93.0 244.9,92.7 245.5,91.5 246.1,91.0 246.8,90.6 247.4,90.5 248.0,90.9 248.7,90.8 249.3,90.8 249.9,90.8 250.6,90.5 251.2,90.0 251.8,89.5 252.4,89.6 253.1,89.9 253.7,89.7 254.3,89.6 255.0,89.8 255.6,89.7 256.2,89.3 256.8,89.2 257.5,89.1 258.1,88.3 258.7,87.1 259.4,86.8 260.0,87.5 260.6,87.3 261.2,86.6 261.9,87.0 262.5,87.5 263.1,87.2 263.8,86.7 264.4,86.4 265.0,86.2 265.7,86.1 266.3,86.6 266.9,86.9 267.5,86.5 268.2,85.9 268.8,86.2 269.4,86.2 270.1,85.4 270.7,85.5 271.3,86.4 271.9,86.9 272.6,86.7 273.2,86.1 273.8,85.8 274.5,86.0 275.1,86.1 275.7,86.1 276.4,85.7 277.0,84.8 277.6,84.8 278.2,85.8 278.9,85.8 279.5,85.1 280.1,85.0 280.8,85.3 281.4,85.4 282.0,85.1 282.6,84.5 283.3,84.4 283.9,84.5 284.5,84.4 285.2,84.9 285.8,85.1 286.4,84.3 287.1,83.9 287.7,83.9 288.3,83.3 288.9,83.4 289.6,84.5 290.2,84.3 290.8,82.9 291.5,82.8 292.1,84.1 292.7,84.8 293.3,84.5 294.0,84.5 294.6,84.6 295.2,84.3 295.9,84.6 296.5,84.3 297.1,83.5 297.8,83.5 298.4,83.4 299.0,82.8 299.6,82.7 300.3,83.2 300.9,83.5 301.5,83.1 302.2,82.2 302.8,82.6 303.4,83.5 304.0,83.1 304.7,82.5 305.3,82.0 305.9,81.4 306.6,81.8 307.2,82.8 307.8,83.4 308.5,83.5 309.1,83.0 309.7,81.9 310.3,81.2 311.0,82.5 311.6,84.0 312.2,83.6 312.9,83.1 313.5,83.5 314.1,83.5 314.7,82.9 315.4,82.5 316.0,82.7 316.6,82.8 317.3,82.4 317.9,82.7 318.5,83.2 319.1,83.5 319.8,83.0 320.4,82.7 321.0,83.1 321.7,82.6 322.3,82.0 322.9,82.2 323.6,82.5 324.2,82.4 324.8,81.5 325.4,81.2" fill="none" stroke="#ffa4a4" stroke-width="3.4" stroke-linejoin="round" /><polyline points="183.2,162.5 183.8,154.8 184.5,151.0 185.1,150.8 185.7,150.9 186.4,152.0 187.0,151.6 187.6,148.8 188.2,148.5 188.9,148.3 189.5,143.3 190.1,141.2 190.8,145.2 191.4,145.3 192.0,141.7 192.7,142.7 193.3,143.0 193.9,137.4 194.5,135.0 195.2,133.1 195.8,129.2 196.4,130.7 197.1,132.9 197.7,132.3 198.3,132.6 198.9,131.0 199.6,128.2 200.2,128.0 200.8,125.6 201.5,120.8 202.1,119.4 202.7,119.9 203.3,119.8 204.0,118.3 204.6,117.0 205.2,116.3 205.9,116.2 206.5,118.8 207.1,120.9 207.8,120.7 208.4,118.0 209.0,113.2 209.6,111.9 210.3,114.1 210.9,114.7 211.5,114.6 212.2,115.7 212.8,115.1 213.4,114.2 214.0,114.2 214.7,111.6 215.3,109.9 215.9,111.4 216.6,112.8 217.2,109.9 217.8,106.1 218.5,105.9 219.1,103.6 219.7,103.0 220.3,106.7 221.0,106.6 221.6,101.3 222.2,99.9 222.9,103.9 223.5,103.5 224.1,100.1 224.7,98.0 225.4,97.5 226.0,99.7 226.6,101.7 227.3,100.4 227.9,97.7 228.5,101.5 229.2,105.3 229.8,101.9 230.4,97.0 231.0,94.6 231.7,96.6 232.3,97.4 232.9,94.3 233.6,92.9 234.2,93.9 234.8,93.6 235.4,94.1 236.1,95.8 236.7,95.7 237.3,96.1 238.0,95.6 238.6,94.6 239.2,94.9 239.9,92.1 240.5,90.6 241.1,93.7 241.7,95.5 242.4,94.0 243.0,91.3 243.6,90.2 244.3,89.9 244.9,90.4 245.5,91.9 246.1,93.7 246.8,94.0 247.4,91.3 248.0,90.5 248.7,90.5 249.3,88.0 249.9,91.0 250.6,95.9 251.2,95.0 251.8,92.1 252.4,86.4 253.1,83.6 253.7,87.9 254.3,90.1 255.0,89.4 255.6,87.9 256.2,85.7 256.8,86.3 257.5,87.7 258.1,87.2 258.7,88.4 259.4,87.4 260.0,84.4 260.6,86.1 261.2,89.9 261.9,90.8 262.5,89.5 263.1,86.8 263.8,86.3 264.4,88.3 265.0,86.8 265.7,84.5 266.3,84.4 266.9,83.4 267.5,82.2 268.2,82.8 268.8,83.4 269.4,82.2 270.1,83.8 270.7,87.0 271.3,85.6 271.9,85.4 272.6,87.9 273.2,90.3 273.8,91.4 274.5,89.3 275.1,86.9 275.7,86.8 276.4,86.5 277.0,83.4 277.6,83.3 278.2,86.2 278.9,87.8 279.5,88.8 280.1,88.9 280.8,87.3 281.4,85.6 282.0,86.7 282.6,88.3 283.3,87.7 283.9,86.6 284.5,83.0 285.2,79.4 285.8,81.2 286.4,86.1 287.1,89.8 287.7,91.0 288.3,88.6 288.9,85.2 289.6,84.8 290.2,85.4 290.8,85.1 291.5,82.8 292.1,81.3 292.7,84.1 293.3,86.1 294.0,84.9 294.6,83.7 295.2,86.1 295.9,88.7 296.5,89.4 297.1,87.6 297.8,81.1 298.4,78.2 299.0,81.6 299.6,82.0 300.3,82.9 300.9,85.7 301.5,85.3 302.2,84.7 302.8,82.7 303.4,81.7 304.0,84.7 304.7,83.9 305.3,82.4 305.9,83.7 306.6,82.2 307.2,80.6 307.8,81.1 308.5,80.9 309.1,83.0 309.7,84.9 310.3,79.2 311.0,74.9 311.6,76.8 312.2,80.9 312.9,84.8 313.5,85.3 314.1,85.2 314.7,83.7 315.4,81.9 316.0,83.4 316.6,85.8 317.3,87.0 317.9,84.8 318.5,83.2 319.1,84.7 319.8,82.7 320.4,80.3 321.0,84.1 321.7,86.9 322.3,83.9 322.9,78.2 323.6,75.9 324.2,80.0 324.8,83.9 325.4,82.8" fill="none" stroke="#ff4a4a" stroke-width="1.0" stroke-linejoin="round" /><polyline points="183.2,156.2 183.8,153.8 184.5,154.2 185.1,152.8 185.7,149.9 186.4,149.3 187.0,149.9 187.6,148.2 188.2,148.1 188.9,148.1 189.5,145.8 190.1,145.1 190.8,146.1 191.4,146.1 192.0,142.1 192.7,135.4 193.3,132.4 193.9,132.7 194.5,133.4 195.2,134.5 195.8,133.9 196.4,133.0 197.1,134.1 197.7,133.2 198.3,130.5 198.9,130.0 199.6,129.5 200.2,127.2 200.8,125.0 201.5,123.3 202.1,123.4 202.7,123.6 203.3,122.6 204.0,122.4 204.6,122.5 205.2,120.6 205.9,117.6 206.5,115.4 207.1,116.3 207.8,119.3 208.4,119.0 209.0,116.6 209.6,115.4 210.3,115.4 210.9,114.2 211.5,111.8 212.2,112.4 212.8,112.5 213.4,108.8 214.0,108.0 214.7,109.3 215.3,109.1 215.9,108.4 216.6,107.1 217.2,107.8 217.8,109.2 218.5,108.8 219.1,107.8 219.7,105.9 220.3,104.7 221.0,105.0 221.6,108.6 222.2,111.0 222.9,108.3 223.5,106.1 224.1,102.8 224.7,99.6 225.4,100.5 226.0,101.9 226.6,101.7 227.3,101.4 227.9,101.8 228.5,102.2 229.2,100.5 229.8,97.7 230.4,96.7 231.0,96.8 231.7,97.5 232.3,97.9 232.9,97.2 233.6,95.6 234.2,94.6 234.8,95.8 235.4,97.8 236.1,96.3 236.7,93.5 237.3,94.5 238.0,94.4 238.6,91.3 239.2,90.6 239.9,92.6 240.5,92.0 241.1,89.4 241.7,90.1 242.4,92.0 243.0,94.1 243.6,96.7 244.3,95.9 244.9,92.4 245.5,91.2 246.1,93.0 246.8,95.3 247.4,95.5 248.0,94.5 248.7,93.2 249.3,89.5 249.9,85.1 250.6,83.4 251.2,86.6 251.8,91.2 252.4,95.3 253.1,97.5 253.7,94.0 254.3,89.4 255.0,87.1 255.6,86.6 256.2,87.1 256.8,87.3 257.5,85.9 258.1,86.2 258.7,89.4 259.4,91.3 260.0,89.6 260.6,85.1 261.2,83.3 261.9,86.2 262.5,88.9 263.1,88.5 263.8,87.5 264.4,87.5 265.0,86.9 265.7,86.6 266.3,86.4 266.9,85.4 267.5,85.7 268.2,87.0 268.8,87.3 269.4,86.5 270.1,85.4 270.7,85.6 271.3,86.1 271.9,87.8 272.6,88.1 273.2,86.5 273.8,86.2 274.5,85.0 275.1,85.7 275.7,89.0 276.4,89.1 277.0,87.9 277.6,88.3 278.2,87.4 278.9,85.0 279.5,84.4 280.1,84.8 280.8,85.0 281.4,85.3 282.0,85.8 282.6,84.9 283.3,83.5 283.9,84.3 284.5,86.3 285.2,86.7 285.8,84.7 286.4,83.7 287.1,85.1 287.7,85.3 288.3,81.5 288.9,79.3 289.6,82.0 290.2,83.3 290.8,85.2 291.5,88.1 292.1,86.6 292.7,83.7 293.3,82.0 294.0,83.6 294.6,85.5 295.2,84.5 295.9,83.9 296.5,84.4 297.1,85.3 297.8,86.1 298.4,84.3 299.0,80.3 299.6,78.3 300.3,79.9 300.9,81.0 301.5,79.8 302.2,78.7 302.8,78.1 303.4,79.7 304.0,82.0 304.7,82.5 305.3,82.1 305.9,82.0 306.6,83.0 307.2,86.1 307.8,88.0 308.5,87.8 309.1,87.1 309.7,84.5 310.3,84.2 311.0,85.1 311.6,82.2 312.2,80.3 312.9,80.1 313.5,77.7 314.1,78.7 314.7,82.1 315.4,81.3 316.0,80.4 316.6,80.5 317.3,81.0 317.9,83.4 318.5,84.9 319.1,85.1 319.8,84.6 320.4,84.6 321.0,86.1 321.7,85.0 322.3,82.3 322.9,81.5 323.6,83.4 324.2,86.1 324.8,85.9 325.4,83.9" fill="none" stroke="#ff6a6a" stroke-width="0.8" stroke-linejoin="round" /><polyline points="183.2,159.3 183.9,157.6 184.6,155.9 185.3,154.3 186.0,152.7 186.7,151.2 187.4,149.6 188.1,148.1 188.8,146.7 189.4,145.3 190.1,143.9 190.8,142.5 191.5,141.2 192.2,139.9 192.9,138.6 193.6,137.3 194.3,136.1 195.0,134.9 195.7,133.7 196.4,132.6 197.1,131.5 197.8,130.4 198.5,129.3 199.1,128.3 199.8,127.2 200.5,126.2 201.2,125.3 201.9,124.3 202.6,123.4 203.3,122.4 204.0,121.5 204.7,120.7 205.4,119.8 206.1,119.0 206.8,118.1 207.5,117.3 208.1,116.6 208.8,115.8 209.5,115.0 210.2,114.3 210.9,113.6 211.6,112.9 212.3,112.2 213.0,111.5 213.7,110.9 214.4,110.2 215.1,109.6 215.8,109.0 216.5,108.4 217.2,107.8 217.8,107.2 218.5,106.6 219.2,106.1 219.9,105.5 220.6,105.0 221.3,104.5 222.0,104.0 222.7,103.5 223.4,103.0 224.1,102.5 224.8,102.1 225.5,101.6 226.2,101.2 226.9,100.8 227.5,100.3 228.2,99.9 228.9,99.5 229.6,99.1 230.3,98.7 231.0,98.4 231.7,98.0 232.4,97.6 233.1,97.3 233.8,96.9 234.5,96.6 235.2,96.2 235.9,95.9 236.6,95.6 237.2,95.3 237.9,95.0 238.6,94.7 239.3,94.4 240.0,94.1 240.7,93.8 241.4,93.6 242.1,93.3 242.8,93.0 243.5,92.8 244.2,92.5 244.9,92.3 245.6,92.1 246.2,91.8 246.9,91.6 247.6,91.4 248.3,91.1 249.0,90.9 249.7,90.7 250.4,90.5 251.1,90.3 251.8,90.1 252.5,89.9 253.2,89.7 253.9,89.6 254.6,89.4 255.3,89.2 255.9,89.0 256.6,88.9 257.3,88.7 258.0,88.5 258.7,88.4 259.4,88.2 260.1,88.1 260.8,87.9 261.5,87.8 262.2,87.7 262.9,87.5 263.6,87.4 264.3,87.3 265.0,87.1 265.6,87.0 266.3,86.9 267.0,86.8 267.7,86.6 268.4,86.5 269.1,86.4 269.8,86.3 270.5,86.2 271.2,86.1 271.9,86.0 272.6,85.9 273.3,85.8 274.0,85.7 274.7,85.6 275.3,85.5 276.0,85.4 276.7,85.3 277.4,85.2 278.1,85.2 278.8,85.1 279.5,85.0 280.2,84.9 280.9,84.8 281.6,84.8 282.3,84.7 283.0,84.6 283.7,84.5 284.4,84.5 285.0,84.4 285.7,84.3 286.4,84.3 287.1,84.2 287.8,84.2 288.5,84.1 289.2,84.0 289.9,84.0 290.6,83.9 291.3,83.9 292.0,83.8 292.7,83.8 293.4,83.7 294.0,83.7 294.7,83.6 295.4,83.6 296.1,83.5 296.8,83.5 297.5,83.4 298.2,83.4 298.9,83.3 299.6,83.3 300.3,83.2 301.0,83.2 301.7,83.2 302.4,83.1 303.1,83.1 303.7,83.0 304.4,83.0 305.1,83.0 305.8,82.9 306.5,82.9 307.2,82.9 307.9,82.8 308.6,82.8 309.3,82.8 310.0,82.7 310.7,82.7 311.4,82.7 312.1,82.7 312.8,82.6 313.4,82.6 314.1,82.6 314.8,82.5 315.5,82.5 316.2,82.5 316.9,82.5 317.6,82.4 318.3,82.4 319.0,82.4 319.7,82.4 320.4,82.4 321.1,82.3" fill="none" stroke="#000" stroke-width="1.7" stroke-linejoin="round" /></g>
<g clip-path="url(#c3)"><polyline points="55.9,323.3 56.6,323.4 57.3,323.7 57.9,323.4 58.6,323.4 59.2,323.4 59.9,323.0 60.6,323.0 61.2,323.4 61.9,323.4 62.5,323.0 63.2,322.6 63.9,322.7 64.5,322.9 65.2,323.0 65.9,322.9 66.5,322.9 67.2,323.9 67.8,324.5 68.5,323.4 69.2,323.5 69.8,324.4 70.5,324.4 71.2,323.6 71.8,322.5 72.5,323.2 73.1,324.3 73.8,323.9" fill="none" stroke="#ff2020" stroke-width="2.2" stroke-linejoin="round" /><polyline points="55.9,320.9 56.6,321.3 57.3,320.9 57.9,320.7 58.6,321.0 59.2,321.2 59.9,320.5 60.6,320.3 61.2,320.7 61.9,320.6 62.5,320.2 63.2,319.9 63.9,320.1 64.5,320.4 65.2,320.2 65.9,320.3 66.5,320.5 67.2,320.5 67.8,320.9 68.5,320.8 69.2,320.3 69.8,320.4 70.5,320.7 71.2,320.8 71.8,321.2 72.5,321.2 73.1,321.0 73.8,320.8" fill="none" stroke="#8484ff" stroke-width="2.6" stroke-linejoin="round" /><polyline points="55.9,319.6 56.6,319.3 57.3,319.6 57.9,320.8 58.6,321.0 59.2,320.4 59.9,319.0 60.6,318.7 61.2,320.5 61.9,321.6 62.5,321.2 63.2,320.4 63.9,319.7 64.5,320.2 65.2,320.5 65.9,318.9 66.5,318.9 67.2,319.6 67.8,319.1 68.5,319.8 69.2,320.5 69.8,320.5 70.5,321.2 71.2,321.1 71.8,319.5 72.5,317.2 73.1,317.3 73.8,318.4" fill="none" stroke="#4646ff" stroke-width="1.0" stroke-linejoin="round" /><polyline points="55.9,320.4 56.6,320.1 57.3,319.5 57.9,318.9 58.6,320.4 59.2,321.4 59.9,320.7 60.6,321.0 61.2,322.7 61.9,323.3 62.5,321.2 63.2,319.7 63.9,319.7 64.5,319.3 65.2,319.3 65.9,320.1 66.5,320.7 67.2,321.5 67.8,321.3 68.5,320.2 69.2,320.9 69.8,321.9 70.5,321.4 71.2,321.4 71.8,321.7 72.5,321.2 73.1,321.9 73.8,323.0" fill="none" stroke="#4646ff" stroke-width="0.8" stroke-linejoin="round" /><polyline points="73.8,323.5 74.4,318.2 75.1,312.9 75.7,308.5 76.3,304.6 76.9,300.4 77.6,296.1 78.2,292.3 78.8,289.3 79.5,286.0 80.1,282.2 80.7,279.0 81.3,276.5 82.0,274.2 82.6,271.5 83.2,269.0 83.9,266.9 84.5,265.1 85.1,263.0 85.7,261.1 86.4,259.5 87.0,257.5 87.6,255.8 88.3,254.3 88.9,252.9 89.5,251.8 90.1,250.3 90.8,248.7 91.4,247.3 92.0,246.4 92.7,246.0 93.3,245.2 93.9,243.7 94.6,242.2 95.2,241.0 95.8,240.7 96.4,240.4 97.1,239.6 97.7,239.3 98.3,238.5 99.0,237.0 99.6,236.4 100.2,236.2 100.8,235.4 101.5,234.8 102.1,234.5 102.7,234.4 103.4,234.6 104.0,234.2 104.6,232.9 105.2,232.2 105.9,232.3 106.5,232.2 107.1,232.1 107.8,231.8 108.4,231.0 109.0,230.7 109.6,230.7 110.3,230.4 110.9,230.1 111.5,229.9 112.2,230.0 112.8,230.2 113.4,229.4 114.0,228.9 114.7,229.3 115.3,229.3 115.9,228.7 116.6,228.4 117.2,228.8 117.8,229.1 118.4,228.9 119.1,228.9 119.7,228.8 120.3,228.3 121.0,228.0 121.6,227.3 122.2,226.6 122.8,226.9 123.5,227.5 124.1,228.0 124.7,228.2 125.4,228.1 126.0,228.0 126.6,228.0 127.2,227.8 127.9,227.6 128.5,227.8 129.1,228.0 129.8,227.7 130.4,227.1 131.0,226.7 131.6,226.3 132.3,226.4 132.9,226.6 133.5,226.8 134.2,226.7 134.8,225.9 135.4,225.8 136.1,226.6 136.7,226.9 137.3,226.9 137.9,227.2 138.6,226.9 139.2,226.2 139.8,226.3 140.5,226.3 141.1,226.2 141.7,226.4 142.3,226.4 143.0,226.4 143.6,226.4 144.2,226.3 144.9,226.0 145.5,225.6 146.1,225.5 146.7,225.6 147.4,225.9 148.0,226.1 148.6,226.4 149.3,226.5 149.9,225.9 150.5,225.8 151.1,225.9 151.8,225.7 152.4,225.8 153.0,225.7 153.7,225.4 154.3,225.7 154.9,225.9 155.5,225.3 156.2,225.2 156.8,225.8 157.4,226.3 158.1,226.5 158.7,226.2 159.3,225.6 159.9,225.7 160.6,226.0 161.2,225.5 161.8,225.0 162.5,225.3 163.1,225.3 163.7,224.8 164.3,224.9 165.0,225.3 165.6,225.7 166.2,226.1 166.9,225.9 167.5,225.6 168.1,225.2 168.7,224.9 169.4,224.8 170.0,224.9 170.6,225.1 171.3,225.7 171.9,226.0 172.5,225.7 173.1,225.5 173.8,225.4 174.4,225.3 175.0,225.6 175.7,225.5 176.3,225.1 176.9,224.9 177.6,224.9 178.2,224.8 178.8,224.9 179.4,225.1 180.1,224.6 180.7,224.2 181.3,224.4 182.0,224.1 182.6,223.7 183.2,224.0" fill="none" stroke="#ff9494" stroke-width="3.6" stroke-linejoin="round" /><polyline points="73.8,321.8 74.4,318.6 75.1,313.3 75.7,307.8 76.3,303.8 76.9,299.4 77.6,294.9 78.2,293.4 78.8,290.6 79.5,284.7 80.1,280.0 80.7,278.2 81.3,276.7 82.0,272.9 82.6,268.6 83.2,267.1 83.9,267.4 84.5,265.7 85.1,264.3 85.7,264.1 86.4,260.5 87.0,256.5 87.6,256.2 88.3,255.0 88.9,251.2 89.5,248.4 90.1,248.4 90.8,249.4 91.4,247.6 92.0,245.5 92.7,246.3 93.3,245.6 93.9,241.7 94.6,240.6 95.2,244.5 95.8,247.1 96.4,245.4 97.1,242.4 97.7,239.5 98.3,237.6 99.0,238.0 99.6,238.2 100.2,237.6 100.8,237.4 101.5,236.9 102.1,234.0 102.7,230.4 103.4,231.5 104.0,235.3 104.6,236.0 105.2,235.8 105.9,236.2 106.5,235.4 107.1,233.1 107.8,231.4 108.4,232.1 109.0,233.9 109.6,234.6 110.3,233.7 110.9,231.8 111.5,229.9 112.2,229.1 112.8,229.3 113.4,228.4 114.0,228.4 114.7,230.8 115.3,233.4 115.9,232.1 116.6,227.8 117.2,226.0 117.8,226.7 118.4,227.6 119.1,228.8 119.7,229.8 120.3,228.8 121.0,226.9 121.6,226.9 122.2,228.3 122.8,228.1 123.5,226.9 124.1,227.4 124.7,227.3 125.4,225.3 126.0,225.7 126.6,226.0 127.2,224.2 127.9,224.6 128.5,226.1 129.1,227.2 129.8,228.8 130.4,230.6 131.0,230.0 131.6,228.2 132.3,228.3 132.9,227.9 133.5,228.3 134.2,229.0 134.8,227.5 135.4,225.9 136.1,224.0 136.7,223.0 137.3,223.9 137.9,225.3 138.6,226.1 139.2,225.6 139.8,225.9 140.5,227.0 141.1,226.8 141.7,226.2 142.3,225.6 143.0,225.8 143.6,227.2 144.2,227.1 144.9,226.8 145.5,228.6 146.1,227.1 146.7,226.1 147.4,229.5 148.0,228.5 148.6,226.6 149.3,225.9 149.9,225.1 150.5,226.7 151.1,224.4 151.8,221.5 152.4,223.3 153.0,225.1 153.7,226.0 154.3,226.1 154.9,225.9 155.5,226.9 156.2,226.1 156.8,225.1 157.4,226.8 158.1,226.8 158.7,226.5 159.3,226.5 159.9,224.4 160.6,225.2 161.2,227.5 161.8,227.2 162.5,227.1 163.1,226.9 163.7,226.2 164.3,225.6 165.0,224.9 165.6,224.8 166.2,224.3 166.9,223.8 167.5,224.3 168.1,225.7 168.7,227.2 169.4,226.8 170.0,224.3 170.6,221.5 171.3,220.0 171.9,221.2 172.5,223.8 173.1,224.8 173.8,224.5 174.4,223.5 175.0,221.9 175.7,222.9 176.3,225.9 176.9,225.5 177.6,223.0 178.2,223.4 178.8,224.0 179.4,223.4 180.1,224.6 180.7,225.8 181.3,227.1 182.0,227.4 182.6,225.8 183.2,226.3" fill="none" stroke="#ff4040" stroke-width="0.9" stroke-linejoin="round" /><polyline points="73.8,322.9 74.4,317.8 75.1,314.3 75.7,310.6 76.3,306.2 76.9,301.7 77.6,296.5 78.2,291.9 78.8,287.6 79.5,283.0 80.1,280.4 80.7,278.5 81.3,276.4 82.0,273.7 82.6,269.9 83.2,268.1 83.9,267.2 84.5,264.0 85.1,261.0 85.7,259.2 86.4,258.7 87.0,259.2 87.6,256.8 88.3,252.6 88.9,252.2 89.5,252.7 90.1,250.7 90.8,250.2 91.4,251.4 92.0,251.3 92.7,248.6 93.3,245.2 93.9,243.7 94.6,242.9 95.2,241.3 95.8,241.4 96.4,242.6 97.1,241.7 97.7,240.8 98.3,240.5 99.0,239.1 99.6,237.7 100.2,237.8 100.8,238.2 101.5,235.8 102.1,233.6 102.7,235.7 103.4,236.7 104.0,234.1 104.6,232.3 105.2,232.9 105.9,233.2 106.5,232.4 107.1,233.1 107.8,234.0 108.4,233.0 109.0,231.4 109.6,229.9 110.3,229.7 110.9,229.7 111.5,229.2 112.2,229.0 112.8,229.7 113.4,231.8 114.0,231.8 114.7,230.3 115.3,230.6 115.9,230.4 116.6,229.6 117.2,229.7 117.8,228.7 118.4,228.7 119.1,230.1 119.7,227.5 120.3,225.0 121.0,226.8 121.6,227.6 122.2,226.0 122.8,226.0 123.5,228.0 124.1,228.4 124.7,227.4 125.4,226.9 126.0,226.6 126.6,226.8 127.2,227.4 127.9,227.8 128.5,228.3 129.1,228.4 129.8,227.7 130.4,227.9 131.0,227.5 131.6,225.8 132.3,226.9 132.9,227.8 133.5,226.7 134.2,226.6 134.8,226.5 135.4,226.2 136.1,226.2 136.7,226.5 137.3,227.0 137.9,225.5 138.6,225.3 139.2,227.8 139.8,227.3 140.5,226.4 141.1,228.0 141.7,227.2 142.3,224.7 143.0,224.1 143.6,223.6 144.2,224.2 144.9,225.4 145.5,225.1 146.1,224.3 146.7,224.0 147.4,224.7 148.0,225.4 148.6,224.8 149.3,223.7 149.9,224.7 150.5,226.9 151.1,226.9 151.8,226.1 152.4,226.5 153.0,227.1 153.7,227.2 154.3,226.3 154.9,224.7 155.5,224.2 156.2,223.8 156.8,223.2 157.4,222.5 158.1,221.2 158.7,222.2 159.3,224.6 159.9,227.4 160.6,229.1 161.2,227.1 161.8,224.1 162.5,223.8 163.1,224.7 163.7,224.0 164.3,224.0 165.0,226.0 165.6,227.7 166.2,226.7 166.9,225.1 167.5,224.5 168.1,225.3 168.7,225.8 169.4,224.2 170.0,223.4 170.6,223.4 171.3,222.9 171.9,223.1 172.5,225.2 173.1,227.4 173.8,226.6 174.4,223.7 175.0,223.2 175.7,224.6 176.3,225.3 176.9,225.0 177.6,225.0 178.2,225.6 178.8,224.5 179.4,222.5 180.1,223.5 180.7,226.0 181.3,227.0 182.0,225.8 182.6,223.8 183.2,223.4" fill="none" stroke="#ff5a5a" stroke-width="0.8" stroke-linejoin="round" /><polyline points="73.8,320.7 74.4,320.3 75.1,319.4 75.7,318.7 76.3,318.4 76.9,318.8 77.6,318.7 78.2,318.1 78.8,318.3 79.5,318.6 80.1,318.2 80.7,317.5 81.3,317.1 82.0,316.8 82.6,316.2 83.2,316.0 83.9,316.1 84.5,316.1 85.1,316.0 85.7,315.5 86.4,315.2 87.0,315.2 87.6,315.2 88.3,315.4 88.9,315.7 89.5,315.3 90.1,314.5 90.8,313.9 91.4,313.7 92.0,313.7 92.7,313.5 93.3,313.1 93.9,313.3 94.6,313.8 95.2,313.7 95.8,313.6 96.4,313.6 97.1,313.0 97.7,312.8 98.3,312.6 99.0,312.3 99.6,312.6 100.2,312.9 100.8,312.9 101.5,312.7 102.1,312.4 102.7,312.0 103.4,311.6 104.0,311.6 104.6,311.9 105.2,312.3 105.9,312.5 106.5,312.3 107.1,312.0 107.8,311.6 108.4,311.2 109.0,310.9 109.6,310.8 110.3,311.0 110.9,311.2 111.5,311.1 112.2,310.9 112.8,310.9 113.4,311.2 114.0,310.6 114.7,310.1 115.3,310.7 115.9,311.2 116.6,311.5 117.2,311.3 117.8,310.7 118.4,310.5 119.1,310.3 119.7,309.6 120.3,309.7 121.0,310.4 121.6,310.3 122.2,310.1 122.8,310.2 123.5,310.3 124.1,310.1 124.7,309.8 125.4,309.9 126.0,310.0 126.6,309.7 127.2,309.7 127.9,309.9 128.5,309.8 129.1,309.5 129.8,309.8 130.4,310.3 131.0,310.6 131.6,310.6 132.3,310.6 132.9,310.2 133.5,310.4 134.2,310.8 134.8,310.3 135.4,309.8 136.1,310.0 136.7,310.1 137.3,309.8 137.9,310.2 138.6,310.7 139.2,310.5 139.8,309.9 140.5,309.3 141.1,309.3 141.7,309.8 142.3,310.4 143.0,310.4 143.6,310.3 144.2,310.4 144.9,310.4 145.5,310.0 146.1,309.6 146.7,309.6 147.4,309.8 148.0,310.3 148.6,310.5 149.3,310.0 149.9,309.2 150.5,309.2 151.1,309.5 151.8,309.4 152.4,309.3 153.0,309.1 153.7,309.3 154.3,309.6 154.9,309.6 155.5,309.9 156.2,310.4 156.8,310.3 157.4,309.8 158.1,309.6 158.7,309.7 159.3,309.5 159.9,309.2 160.6,309.6 161.2,309.7 161.8,309.0 162.5,308.8 163.1,309.5 163.7,310.2 164.3,310.0 165.0,309.4 165.6,309.1 166.2,309.2 166.9,309.6 167.5,309.6 168.1,309.4 168.7,309.2 169.4,309.1 170.0,309.3 170.6,309.8 171.3,310.3 171.9,310.2 172.5,310.1 173.1,309.7 173.8,309.0 174.4,308.7 175.0,309.3 175.7,309.8 176.3,309.8 176.9,309.5 177.6,309.0 178.2,309.0 178.8,309.3 179.4,309.9 180.1,310.4 180.7,310.3 181.3,309.9 182.0,309.5 182.6,309.5 183.2,309.8" fill="none" stroke="#8484ff" stroke-width="2.6" stroke-linejoin="round" /><polyline points="73.8,321.1 74.4,321.8 75.1,320.9 75.7,320.6 76.3,319.8 76.9,317.6 77.6,317.4 78.2,319.4 78.8,319.1 79.5,317.9 80.1,317.8 80.7,317.9 81.3,317.1 82.0,316.3 82.6,316.8 83.2,317.0 83.9,316.4 84.5,316.1 85.1,315.5 85.7,314.8 86.4,315.0 87.0,315.3 87.6,315.8 88.3,316.7 88.9,317.0 89.5,316.3 90.1,315.4 90.8,315.8 91.4,315.8 92.0,314.2 92.7,314.3 93.3,314.7 93.9,312.9 94.6,312.8 95.2,313.1 95.8,312.3 96.4,313.0 97.1,312.6 97.7,311.6 98.3,313.0 99.0,313.1 99.6,312.5 100.2,313.5 100.8,313.1 101.5,310.8 102.1,310.0 102.7,312.0 103.4,312.5 104.0,311.4 104.6,312.3 105.2,313.1 105.9,312.1 106.5,311.3 107.1,310.6 107.8,309.6 108.4,309.7 109.0,310.4 109.6,311.6 110.3,312.6 110.9,312.1 111.5,311.4 112.2,311.6 112.8,311.8 113.4,311.2 114.0,308.7 114.7,308.0 115.3,310.1 115.9,310.9 116.6,310.3 117.2,309.4 117.8,309.6 118.4,310.6 119.1,310.9 119.7,311.3 120.3,311.4 121.0,310.9 121.6,310.8 122.2,310.3 122.8,309.5 123.5,309.2 124.1,309.3 124.7,309.8 125.4,310.6 126.0,310.4 126.6,310.2 127.2,310.2 127.9,309.6 128.5,310.3 129.1,311.8 129.8,311.9 130.4,311.0 131.0,310.8 131.6,312.3 132.3,313.4 132.9,311.7 133.5,309.9 134.2,310.6 134.8,311.0 135.4,311.6 136.1,312.6 136.7,311.0 137.3,309.5 137.9,309.3 138.6,309.2 139.2,309.8 139.8,310.3 140.5,310.1 141.1,308.6 141.7,307.3 142.3,308.3 143.0,309.8 143.6,310.9 144.2,310.2 144.9,309.2 145.5,310.7 146.1,311.5 146.7,310.6 147.4,309.2 148.0,309.1 148.6,311.1 149.3,310.3 149.9,309.3 150.5,310.9 151.1,310.8 151.8,308.6 152.4,308.1 153.0,310.7 153.7,311.4 154.3,308.6 154.9,307.6 155.5,310.4 156.2,311.5 156.8,309.3 157.4,308.4 158.1,308.5 158.7,309.2 159.3,310.3 159.9,309.5 160.6,307.3 161.2,308.3 161.8,311.7 162.5,310.8 163.1,308.3 163.7,309.7 164.3,311.3 165.0,310.4 165.6,309.7 166.2,310.0 166.9,310.3 167.5,310.4 168.1,310.0 168.7,309.8 169.4,310.4 170.0,310.4 170.6,309.1 171.3,307.9 171.9,308.4 172.5,309.1 173.1,308.7 173.8,308.1 174.4,307.7 175.0,307.3 175.7,306.4 176.3,306.9 176.9,309.0 177.6,309.5 178.2,308.4 178.8,308.4 179.4,310.1 180.1,312.2 180.7,312.2 181.3,309.6 182.0,307.9 182.6,308.8 183.2,309.9" fill="none" stroke="#4646ff" stroke-width="1.0" stroke-linejoin="round" /><polyline points="73.8,320.0 74.4,319.8 75.1,320.7 75.7,321.5 76.3,322.1 76.9,321.8 77.6,320.7 78.2,318.8 78.8,317.4 79.5,316.7 80.1,317.1 80.7,317.7 81.3,317.4 82.0,316.9 82.6,316.2 83.2,316.4 83.9,317.2 84.5,316.6 85.1,316.1 85.7,315.6 86.4,314.0 87.0,313.4 87.6,314.9 88.3,316.8 88.9,317.5 89.5,316.3 90.1,316.2 90.8,316.8 91.4,314.9 92.0,313.8 92.7,314.7 93.3,315.2 93.9,314.6 94.6,314.2 95.2,314.9 95.8,313.5 96.4,311.5 97.1,311.9 97.7,312.7 98.3,313.5 99.0,314.2 99.6,313.2 100.2,312.8 100.8,313.3 101.5,312.1 102.1,310.5 102.7,311.4 103.4,313.8 104.0,314.8 104.6,313.7 105.2,311.5 105.9,310.4 106.5,311.3 107.1,312.9 107.8,313.3 108.4,312.1 109.0,311.9 109.6,312.3 110.3,311.5 110.9,310.6 111.5,311.3 112.2,313.3 112.8,314.1 113.4,312.5 114.0,311.3 114.7,311.5 115.3,312.0 115.9,311.6 116.6,310.6 117.2,310.5 117.8,311.3 118.4,312.1 119.1,311.8 119.7,311.4 120.3,312.3 121.0,312.6 121.6,311.0 122.2,309.4 122.8,309.0 123.5,309.0 124.1,310.0 124.7,311.6 125.4,312.3 126.0,311.0 126.6,309.0 127.2,308.9 127.9,309.0 128.5,309.2 129.1,310.0 129.8,310.4 130.4,309.9 131.0,309.2 131.6,309.1 132.3,309.3 132.9,310.1 133.5,310.9 134.2,311.2 134.8,310.6 135.4,310.6 136.1,311.8 136.7,310.1 137.3,307.8 137.9,309.7 138.6,311.3 139.2,309.9 139.8,308.7 140.5,309.1 141.1,309.3 141.7,309.6 142.3,308.6 143.0,306.8 143.6,308.4 144.2,310.6 144.9,310.4 145.5,309.4 146.1,308.8 146.7,308.7 147.4,309.9 148.0,310.9 148.6,310.1 149.3,309.9 149.9,310.9 150.5,311.7 151.1,311.4 151.8,310.7 152.4,310.8 153.0,311.1 153.7,310.3 154.3,310.1 154.9,311.0 155.5,311.3 156.2,310.4 156.8,310.4 157.4,311.9 158.1,312.1 158.7,311.7 159.3,310.4 159.9,309.3 160.6,309.7 161.2,310.2 161.8,309.4 162.5,307.5 163.1,307.1 163.7,308.6 164.3,310.9 165.0,310.8 165.6,309.1 166.2,309.3 166.9,309.7 167.5,309.9 168.1,310.2 168.7,309.4 169.4,308.8 170.0,309.3 170.6,309.7 171.3,309.7 171.9,309.5 172.5,308.3 173.1,307.4 173.8,307.7 174.4,308.2 175.0,309.9 175.7,311.5 176.3,310.1 176.9,309.3 177.6,309.6 178.2,310.4 178.8,311.3 179.4,310.4 180.1,308.3 180.7,308.0 181.3,309.8 182.0,309.9 182.6,308.9 183.2,308.5" fill="none" stroke="#4646ff" stroke-width="0.8" stroke-linejoin="round" /><polyline points="73.8,320.4 74.4,320.1 75.1,319.8 75.7,319.5 76.3,319.2 76.9,318.9 77.6,318.6 78.2,318.4 78.8,318.1 79.5,317.9 80.1,317.7 80.7,317.4 81.3,317.2 82.0,317.0 82.6,316.8 83.2,316.6 83.9,316.4 84.5,316.2 85.1,316.0 85.7,315.8 86.4,315.6 87.0,315.4 87.6,315.3 88.3,315.1 88.9,314.9 89.5,314.8 90.1,314.6 90.8,314.5 91.4,314.3 92.0,314.2 92.7,314.1 93.3,313.9 93.9,313.8 94.6,313.7 95.2,313.6 95.8,313.4 96.4,313.3 97.1,313.2 97.7,313.1 98.3,313.0 99.0,312.9 99.6,312.8 100.2,312.7 100.8,312.6 101.5,312.5 102.1,312.4 102.7,312.4 103.4,312.3 104.0,312.2 104.6,312.1 105.2,312.0 105.9,312.0 106.5,311.9 107.1,311.8 107.8,311.7 108.4,311.7 109.0,311.6 109.6,311.6 110.3,311.5 110.9,311.4 111.5,311.4 112.2,311.3 112.8,311.3 113.4,311.2 114.0,311.2 114.7,311.1 115.3,311.1 115.9,311.0 116.6,311.0 117.2,310.9 117.8,310.9 118.4,310.8 119.1,310.8 119.7,310.8 120.3,310.7 121.0,310.7 121.6,310.6 122.2,310.6 122.8,310.6 123.5,310.5 124.1,310.5 124.7,310.5 125.4,310.4 126.0,310.4 126.6,310.4 127.2,310.4 127.9,310.3 128.5,310.3 129.1,310.3 129.8,310.2 130.4,310.2 131.0,310.2 131.6,310.2 132.3,310.1 132.9,310.1 133.5,310.1 134.2,310.1 134.8,310.1 135.4,310.0 136.1,310.0 136.7,310.0 137.3,310.0 137.9,310.0 138.6,310.0 139.2,309.9 139.8,309.9 140.5,309.9 141.1,309.9 141.7,309.9 142.3,309.9 143.0,309.8 143.6,309.8 144.2,309.8 144.9,309.8 145.5,309.8 146.1,309.8 146.7,309.8 147.4,309.8 148.0,309.7 148.6,309.7 149.3,309.7 149.9,309.7 150.5,309.7 151.1,309.7 151.8,309.7 152.4,309.7 153.0,309.7 153.7,309.7 154.3,309.6 154.9,309.6 155.5,309.6 156.2,309.6 156.8,309.6 157.4,309.6 158.1,309.6 158.7,309.6 159.3,309.6 159.9,309.6 160.6,309.6 161.2,309.6 161.8,309.6 162.5,309.6 163.1,309.6 163.7,309.5 164.3,309.5 165.0,309.5 165.6,309.5 166.2,309.5 166.9,309.5 167.5,309.5 168.1,309.5 168.7,309.5 169.4,309.5 170.0,309.5 170.6,309.5 171.3,309.5 171.9,309.5 172.5,309.5 173.1,309.5 173.8,309.5 174.4,309.5 175.0,309.5 175.7,309.5 176.3,309.5 176.9,309.5 177.6,309.5 178.2,309.5 178.8,309.5 179.4,309.4 180.1,309.4 180.7,309.4 181.3,309.4 182.0,309.4 182.6,309.4 183.2,309.4" fill="none" stroke="#000" stroke-width="1.5" stroke-linejoin="round" /><polyline points="73.8,323.3 74.4,318.1 75.1,313.3 75.7,308.6 76.3,304.3 76.9,300.1 77.6,296.2 78.2,292.5 78.8,289.0 79.5,285.7 80.1,282.5 80.7,279.6 81.3,276.8 82.0,274.1 82.6,271.6 83.2,269.2 83.9,267.0 84.5,264.8 85.1,262.8 85.7,260.9 86.4,259.1 87.0,257.4 87.6,255.7 88.3,254.2 88.9,252.8 89.5,251.4 90.1,250.1 90.8,248.9 91.4,247.7 92.0,246.6 92.7,245.5 93.3,244.6 93.9,243.6 94.6,242.7 95.2,241.9 95.8,241.1 96.4,240.3 97.1,239.6 97.7,238.9 98.3,238.3 99.0,237.7 99.6,237.1 100.2,236.6 100.8,236.0 101.5,235.6 102.1,235.1 102.7,234.6 103.4,234.2 104.0,233.8 104.6,233.5 105.2,233.1 105.9,232.8 106.5,232.4 107.1,232.1 107.8,231.8 108.4,231.6 109.0,231.3 109.6,231.0 110.3,230.8 110.9,230.6 111.5,230.4 112.2,230.2 112.8,230.0 113.4,229.8 114.0,229.6 114.7,229.4 115.3,229.3 115.9,229.1 116.6,229.0 117.2,228.9 117.8,228.7 118.4,228.6 119.1,228.5 119.7,228.4 120.3,228.3 121.0,228.1 121.6,228.0 122.2,228.0 122.8,227.9 123.5,227.8 124.1,227.7 124.7,227.6 125.4,227.5 126.0,227.5 126.6,227.4 127.2,227.3 127.9,227.2 128.5,227.2 129.1,227.1 129.8,227.1 130.4,227.0 131.0,226.9 131.6,226.9 132.3,226.8 132.9,226.8 133.5,226.7 134.2,226.7 134.8,226.7 135.4,226.6 136.1,226.6 136.7,226.5 137.3,226.5 137.9,226.4 138.6,226.4 139.2,226.4 139.8,226.3 140.5,226.3 141.1,226.3 141.7,226.2 142.3,226.2 143.0,226.2 143.6,226.1 144.2,226.1 144.9,226.1 145.5,226.0 146.1,226.0 146.7,226.0 147.4,225.9 148.0,225.9 148.6,225.9 149.3,225.9 149.9,225.8 150.5,225.8 151.1,225.8 151.8,225.8 152.4,225.7 153.0,225.7 153.7,225.7 154.3,225.7 154.9,225.6 155.5,225.6 156.2,225.6 156.8,225.6 157.4,225.5 158.1,225.5 158.7,225.5 159.3,225.5 159.9,225.4 160.6,225.4 161.2,225.4 161.8,225.4 162.5,225.3 163.1,225.3 163.7,225.3 164.3,225.3 165.0,225.2 165.6,225.2 166.2,225.2 166.9,225.2 167.5,225.2 168.1,225.1 168.7,225.1 169.4,225.1 170.0,225.1 170.6,225.0 171.3,225.0 171.9,225.0 172.5,225.0 173.1,225.0 173.8,224.9 174.4,224.9 175.0,224.9 175.7,224.9 176.3,224.9 176.9,224.8 177.6,224.8 178.2,224.8 178.8,224.8 179.4,224.7 180.1,224.7 180.7,224.7 181.3,224.7 182.0,224.7 182.6,224.6 183.2,224.6" fill="none" stroke="#000" stroke-width="1.7" stroke-linejoin="round" /><polyline points="183.2,309.5 183.8,309.1 184.5,309.2 185.1,309.8 185.7,309.8 186.4,309.8 187.0,310.0 187.6,310.7 188.2,311.2 188.9,310.8 189.5,310.2 190.1,310.0 190.8,310.2 191.4,310.9 192.0,311.6 192.7,312.0 193.3,312.2 193.9,312.4 194.5,312.8 195.2,313.1 195.8,312.8 196.4,312.1 197.1,311.6 197.7,312.2 198.3,312.8 198.9,313.1 199.6,313.6 200.2,314.0 200.8,313.9 201.5,313.2 202.1,313.4 202.7,314.0 203.3,313.9 204.0,313.5 204.6,313.6 205.2,314.1 205.9,314.6 206.5,314.7 207.1,314.4 207.8,314.4 208.4,315.0 209.0,315.1 209.6,314.8 210.3,314.9 210.9,314.8 211.5,314.7 212.2,314.6 212.8,314.4 213.4,314.7 214.0,315.3 214.7,315.9 215.3,315.9 215.9,315.4 216.6,314.9 217.2,314.8 217.8,314.9 218.5,315.5 219.1,315.8 219.7,315.8 220.3,316.1 221.0,316.6 221.6,316.6 222.2,316.5 222.9,316.7 223.5,316.9 224.1,316.9 224.7,316.8 225.4,316.9 226.0,317.1 226.6,317.4 227.3,317.3 227.9,316.9 228.5,317.2 229.2,317.4 229.8,317.8 230.4,318.2 231.0,317.6 231.7,317.5 232.3,317.7 232.9,317.7 233.6,318.0 234.2,318.2 234.8,318.0 235.4,317.6 236.1,317.4 236.7,317.9 237.3,317.8 238.0,317.9 238.6,318.9 239.2,318.9 239.9,318.3 240.5,318.2 241.1,318.0 241.7,317.9 242.4,318.4 243.0,319.3 243.6,319.5 244.3,319.0 244.9,318.7 245.5,318.6 246.1,318.7 246.8,318.8 247.4,318.1 248.0,317.9 248.7,318.5 249.3,319.1 249.9,319.3 250.6,319.2 251.2,319.3 251.8,319.3 252.4,319.0 253.1,318.8 253.7,319.0 254.3,319.0 255.0,318.7 255.6,319.3 256.2,320.2 256.8,319.9 257.5,319.2 258.1,319.0 258.7,319.3 259.4,319.6 260.0,319.5 260.6,319.4 261.2,319.6 261.9,319.9 262.5,319.7 263.1,319.5 263.8,319.9 264.4,320.1 265.0,319.8 265.7,319.7 266.3,319.6 266.9,319.3 267.5,319.0 268.2,319.3 268.8,319.8 269.4,320.2 270.1,320.0 270.7,319.4 271.3,319.2 271.9,319.4 272.6,320.1 273.2,320.4 273.8,319.7 274.5,319.6 275.1,319.9 275.7,319.9 276.4,319.7 277.0,320.0 277.6,320.3 278.2,320.1 278.9,320.2 279.5,320.1 280.1,319.5 280.8,319.6 281.4,320.5 282.0,320.9 282.6,320.4 283.3,320.0 283.9,320.4 284.5,320.8 285.2,321.0 285.8,320.8 286.4,320.3 287.1,319.8 287.7,320.0 288.3,320.4 288.9,320.3 289.6,320.3 290.2,320.5 290.8,320.2 291.5,319.7 292.1,319.9 292.7,320.2 293.3,320.5 294.0,320.9 294.6,321.1 295.2,320.6 295.9,319.8 296.5,319.4 297.1,319.7 297.8,320.1 298.4,320.6 299.0,320.8 299.6,320.7 300.3,320.6 300.9,320.6 301.5,320.6 302.2,321.1 302.8,321.6 303.4,321.6 304.0,321.7 304.7,321.3 305.3,320.6 305.9,320.6 306.6,320.5 307.2,320.1 307.8,320.2 308.5,320.5 309.1,320.3 309.7,320.4 310.3,320.7 311.0,320.9 311.6,321.4 312.2,321.4 312.9,320.9 313.5,320.7 314.1,320.9 314.7,320.8 315.4,320.3 316.0,320.1 316.6,320.2 317.3,320.4 317.9,320.9 318.5,321.0 319.1,320.9 319.8,321.1 320.4,320.9 321.0,320.5 321.7,320.9 322.3,321.2 322.9,320.7 323.6,320.3 324.2,320.4 324.8,320.6 325.4,321.0" fill="none" stroke="#8484ff" stroke-width="2.6" stroke-linejoin="round" /><polyline points="183.2,308.9 183.8,308.4 184.5,309.1 185.1,309.3 185.7,310.3 186.4,310.5 187.0,309.4 187.6,309.4 188.2,310.9 188.9,312.1 189.5,311.9 190.1,310.7 190.8,309.4 191.4,310.3 192.0,312.0 192.7,312.9 193.3,313.5 193.9,313.0 194.5,311.9 195.2,311.8 195.8,312.3 196.4,313.1 197.1,312.8 197.7,312.2 198.3,314.1 198.9,315.0 199.6,314.1 200.2,314.4 200.8,313.9 201.5,313.2 202.1,313.5 202.7,313.6 203.3,313.3 204.0,312.2 204.6,312.3 205.2,314.1 205.9,315.1 206.5,315.1 207.1,314.1 207.8,314.1 208.4,315.0 209.0,315.2 209.6,316.1 210.3,317.2 210.9,316.1 211.5,313.9 212.2,314.0 212.8,315.4 213.4,315.4 214.0,315.8 214.7,317.0 215.3,315.6 215.9,313.8 216.6,315.1 217.2,315.7 217.8,315.7 218.5,316.5 219.1,316.0 219.7,315.2 220.3,315.5 221.0,316.1 221.6,316.4 222.2,316.3 222.9,315.7 223.5,314.9 224.1,315.4 224.7,317.8 225.4,318.9 226.0,317.0 226.6,316.4 227.3,318.5 227.9,320.0 228.5,318.8 229.2,317.4 229.8,318.1 230.4,318.2 231.0,316.8 231.7,316.2 232.3,317.0 232.9,317.9 233.6,317.4 234.2,315.9 234.8,316.0 235.4,318.0 236.1,319.6 236.7,319.0 237.3,318.1 238.0,318.0 238.6,317.4 239.2,317.2 239.9,317.4 240.5,317.2 241.1,317.9 241.7,319.0 242.4,317.9 243.0,316.9 243.6,318.7 244.3,319.0 244.9,317.8 245.5,318.6 246.1,320.1 246.8,320.0 247.4,318.3 248.0,316.8 248.7,316.9 249.3,317.6 249.9,318.3 250.6,319.3 251.2,319.6 251.8,319.4 252.4,318.8 253.1,317.7 253.7,318.1 254.3,318.9 255.0,318.6 255.6,319.5 256.2,320.5 256.8,320.6 257.5,320.7 258.1,319.8 258.7,319.1 259.4,319.1 260.0,319.1 260.6,319.4 261.2,320.3 261.9,320.8 262.5,320.5 263.1,320.5 263.8,320.4 264.4,319.8 265.0,320.2 265.7,321.8 266.3,322.1 266.9,320.5 267.5,319.2 268.2,318.7 268.8,318.1 269.4,317.9 270.1,318.7 270.7,320.1 271.3,321.3 271.9,321.5 272.6,320.7 273.2,319.8 273.8,319.6 274.5,319.9 275.1,319.8 275.7,319.4 276.4,319.4 277.0,319.5 277.6,319.9 278.2,320.9 278.9,321.1 279.5,319.9 280.1,319.6 280.8,320.4 281.4,319.6 282.0,318.6 282.6,320.0 283.3,320.7 283.9,320.7 284.5,321.2 285.2,319.9 285.8,318.1 286.4,318.3 287.1,319.0 287.7,319.4 288.3,319.5 288.9,319.5 289.6,320.3 290.2,320.8 290.8,320.1 291.5,319.4 292.1,319.4 292.7,320.6 293.3,321.5 294.0,319.2 294.6,317.1 295.2,318.3 295.9,320.6 296.5,321.4 297.1,321.2 297.8,321.0 298.4,320.6 299.0,320.3 299.6,319.3 300.3,319.8 300.9,321.8 301.5,321.7 302.2,321.9 302.8,322.6 303.4,322.1 304.0,320.7 304.7,320.6 305.3,321.2 305.9,319.5 306.6,318.0 307.2,319.0 307.8,320.0 308.5,321.1 309.1,321.7 309.7,320.7 310.3,319.8 311.0,318.7 311.6,317.7 312.2,318.7 312.9,319.3 313.5,319.8 314.1,321.9 314.7,322.8 315.4,322.1 316.0,321.4 316.6,320.7 317.3,320.0 317.9,318.7 318.5,318.3 319.1,319.6 319.8,320.6 320.4,320.1 321.0,320.4 321.7,321.4 322.3,320.8 322.9,320.0 323.6,319.7 324.2,318.8 324.8,319.5 325.4,321.1" fill="none" stroke="#4646ff" stroke-width="1.0" stroke-linejoin="round" /><polyline points="183.2,309.6 183.8,309.6 184.5,309.1 185.1,308.7 185.7,309.1 186.4,310.5 187.0,310.9 187.6,309.7 188.2,309.4 188.9,309.5 189.5,309.7 190.1,309.5 190.8,309.2 191.4,309.7 192.0,310.8 192.7,312.0 193.3,311.8 193.9,311.9 194.5,312.3 195.2,312.1 195.8,311.3 196.4,311.7 197.1,313.5 197.7,313.9 198.3,313.0 198.9,312.5 199.6,312.8 200.2,313.2 200.8,313.2 201.5,312.6 202.1,312.6 202.7,313.6 203.3,314.6 204.0,315.0 204.6,314.0 205.2,313.5 205.9,313.9 206.5,314.5 207.1,316.6 207.8,317.7 208.4,316.9 209.0,315.8 209.6,315.1 210.3,315.0 210.9,314.8 211.5,314.7 212.2,315.9 212.8,317.2 213.4,316.1 214.0,315.2 214.7,316.8 215.3,316.2 215.9,314.3 216.6,315.1 217.2,316.4 217.8,316.0 218.5,314.7 219.1,315.1 219.7,316.1 220.3,315.9 221.0,315.3 221.6,314.7 222.2,314.9 222.9,316.9 223.5,317.9 224.1,316.2 224.7,314.7 225.4,315.3 226.0,315.3 226.6,315.2 227.3,316.5 227.9,317.0 228.5,317.2 229.2,317.4 229.8,316.5 230.4,316.4 231.0,317.8 231.7,319.1 232.3,319.0 232.9,318.1 233.6,317.6 234.2,318.0 234.8,318.7 235.4,318.1 236.1,317.2 236.7,317.3 237.3,317.2 238.0,317.4 238.6,318.8 239.2,319.2 239.9,317.9 240.5,317.2 241.1,318.2 241.7,320.4 242.4,321.7 243.0,321.4 243.6,319.7 244.3,317.7 244.9,317.6 245.5,318.3 246.1,318.1 246.8,318.0 247.4,318.4 248.0,318.4 248.7,319.4 249.3,320.8 249.9,319.5 250.6,318.0 251.2,318.7 251.8,319.5 252.4,319.8 253.1,319.2 253.7,318.4 254.3,319.3 255.0,321.5 255.6,322.6 256.2,322.0 256.8,322.0 257.5,321.4 258.1,319.1 258.7,319.2 259.4,320.4 260.0,319.3 260.6,319.0 261.2,319.6 261.9,319.9 262.5,321.1 263.1,322.0 263.8,321.9 264.4,320.8 265.0,319.9 265.7,320.9 266.3,321.7 266.9,321.0 267.5,320.1 268.2,319.6 268.8,319.5 269.4,320.6 270.1,321.5 270.7,320.8 271.3,320.5 271.9,320.6 272.6,319.3 273.2,318.4 273.8,319.6 274.5,319.6 275.1,319.1 275.7,320.4 276.4,321.6 277.0,321.2 277.6,320.0 278.2,319.5 278.9,320.0 279.5,319.6 280.1,318.6 280.8,319.5 281.4,321.1 282.0,320.8 282.6,319.8 283.3,319.7 283.9,320.5 284.5,321.2 285.2,321.8 285.8,322.1 286.4,321.4 287.1,320.7 287.7,320.7 288.3,321.3 288.9,321.7 289.6,322.0 290.2,321.5 290.8,320.5 291.5,320.4 292.1,320.8 292.7,321.3 293.3,321.7 294.0,322.2 294.6,322.0 295.2,321.0 295.9,320.2 296.5,320.3 297.1,320.3 297.8,319.9 298.4,319.9 299.0,319.8 299.6,319.8 300.3,320.6 300.9,320.9 301.5,320.8 302.2,320.8 302.8,320.1 303.4,319.2 304.0,319.7 304.7,321.3 305.3,322.1 305.9,321.5 306.6,320.5 307.2,320.1 307.8,320.8 308.5,320.9 309.1,320.5 309.7,321.0 310.3,320.5 311.0,318.8 311.6,318.5 312.2,319.6 312.9,320.8 313.5,321.4 314.1,320.8 314.7,320.6 315.4,321.0 316.0,321.3 316.6,321.3 317.3,321.0 317.9,320.2 318.5,319.4 319.1,320.8 319.8,322.8 320.4,323.3 321.0,323.2 321.7,322.2 322.3,320.7 322.9,320.7 323.6,321.3 324.2,321.4 324.8,322.3 325.4,323.3" fill="none" stroke="#4646ff" stroke-width="0.8" stroke-linejoin="round" /><polyline points="183.2,224.5 183.8,226.7 184.5,228.4 185.1,230.2 185.7,232.7 186.4,234.9 187.0,236.9 187.6,238.5 188.2,240.1 188.9,241.8 189.5,243.2 190.1,244.8 190.8,246.7 191.4,248.5 192.0,250.1 192.7,251.8 193.3,253.5 193.9,254.7 194.5,256.1 195.2,257.4 195.8,258.4 196.4,260.3 197.1,261.9 197.7,263.1 198.3,264.7 198.9,266.0 199.6,267.1 200.2,268.1 200.8,268.7 201.5,269.4 202.1,270.1 202.7,271.1 203.3,272.1 204.0,273.4 204.6,274.6 205.2,275.4 205.9,276.7 206.5,277.5 207.1,277.8 207.8,278.6 208.4,279.7 209.0,280.4 209.6,281.5 210.3,282.8 210.9,283.7 211.5,284.4 212.2,285.0 212.8,285.4 213.4,285.6 214.0,286.5 214.7,287.6 215.3,288.4 215.9,289.1 216.6,289.4 217.2,289.6 217.8,290.6 218.5,291.7 219.1,292.0 219.7,292.0 220.3,292.3 221.0,293.0 221.6,293.8 222.2,294.3 222.9,294.8 223.5,295.1 224.1,295.3 224.7,295.8 225.4,296.5 226.0,297.1 226.6,297.9 227.3,298.3 227.9,298.2 228.5,298.7 229.2,299.6 229.8,299.8 230.4,299.5 231.0,299.3 231.7,299.6 232.3,300.5 232.9,301.5 233.6,301.6 234.2,301.4 234.8,301.6 235.4,302.1 236.1,302.2 236.7,302.0 237.3,302.3 238.0,303.3 238.6,303.6 239.2,303.4 239.9,303.8 240.5,303.7 241.1,303.9 241.7,304.8 242.4,305.2 243.0,305.3 243.6,305.4 244.3,305.2 244.9,305.1 245.5,305.6 246.1,306.1 246.8,306.2 247.4,306.7 248.0,306.7 248.7,306.5 249.3,307.3 249.9,307.7 250.6,307.9 251.2,308.5 251.8,308.7 252.4,308.2 253.1,308.4 253.7,308.8 254.3,308.9 255.0,309.3 255.6,309.3 256.2,308.7 256.8,308.1 257.5,308.4 258.1,309.2 258.7,309.9 259.4,310.1 260.0,310.0 260.6,309.8 261.2,309.9 261.9,310.1 262.5,310.3 263.1,310.7 263.8,310.9 264.4,310.8 265.0,311.1 265.7,311.3 266.3,311.2 266.9,311.1 267.5,310.8 268.2,310.6 268.8,310.8 269.4,311.0 270.1,311.1 270.7,311.3 271.3,311.8 271.9,311.8 272.6,312.0 273.2,312.2 273.8,312.0 274.5,311.8 275.1,311.5 275.7,311.8 276.4,312.6 277.0,312.1 277.6,311.3 278.2,311.2 278.9,311.5 279.5,312.2 280.1,313.0 280.8,312.9 281.4,312.2 282.0,312.1 282.6,312.6 283.3,312.7 283.9,312.8 284.5,313.3 285.2,312.8 285.8,311.8 286.4,311.8 287.1,312.2 287.7,312.3 288.3,312.9 288.9,313.7 289.6,313.7 290.2,313.1 290.8,312.6 291.5,312.3 292.1,312.6 292.7,313.3 293.3,313.5 294.0,313.1 294.6,313.1 295.2,313.8 295.9,313.9 296.5,313.2 297.1,313.0 297.8,313.4 298.4,313.4 299.0,313.1 299.6,313.0 300.3,313.0 300.9,312.9 301.5,313.4 302.2,313.9 302.8,314.3 303.4,314.7 304.0,314.2 304.7,313.4 305.3,313.5 305.9,313.9 306.6,314.1 307.2,314.4 307.8,314.1 308.5,313.5 309.1,313.6 309.7,313.8 310.3,313.3 311.0,313.1 311.6,313.5 312.2,314.0 312.9,314.6 313.5,314.7 314.1,314.0 314.7,313.8 315.4,314.0 316.0,314.2 316.6,314.0 317.3,313.5 317.9,313.3 318.5,314.1 319.1,314.4 319.8,313.8 320.4,313.5 321.0,313.7 321.7,313.5 322.3,313.2 322.9,313.6 323.6,314.2 324.2,314.8 324.8,314.8 325.4,314.5" fill="none" stroke="#ff9494" stroke-width="3.6" stroke-linejoin="round" /><polyline points="183.2,224.3 183.8,225.7 184.5,229.6 185.1,232.2 185.7,233.8 186.4,236.1 187.0,236.4 187.6,237.5 188.2,239.0 188.9,239.5 189.5,242.2 190.1,245.8 190.8,249.6 191.4,252.4 192.0,252.7 192.7,253.1 193.3,253.7 193.9,255.8 194.5,260.0 195.2,262.3 195.8,261.5 196.4,260.1 197.1,261.8 197.7,264.8 198.3,265.4 198.9,265.0 199.6,266.2 200.2,269.0 200.8,270.6 201.5,269.3 202.1,269.0 202.7,269.9 203.3,270.8 204.0,273.4 204.6,274.7 205.2,274.5 205.9,275.7 206.5,277.6 207.1,279.0 207.8,279.5 208.4,278.8 209.0,279.1 209.6,279.7 210.3,280.9 210.9,284.4 211.5,284.3 212.2,282.8 212.8,286.0 213.4,287.8 214.0,285.6 214.7,286.6 215.3,288.9 215.9,289.3 216.6,291.3 217.2,292.8 217.8,292.1 218.5,292.8 219.1,293.9 219.7,294.3 220.3,294.5 221.0,293.9 221.6,293.2 222.2,293.5 222.9,295.9 223.5,298.5 224.1,298.8 224.7,296.3 225.4,293.9 226.0,295.1 226.6,297.1 227.3,297.8 227.9,298.5 228.5,298.3 229.2,298.3 229.8,298.1 230.4,298.5 231.0,299.8 231.7,300.9 232.3,302.1 232.9,301.2 233.6,296.9 234.2,294.4 234.8,298.0 235.4,302.4 236.1,303.3 236.7,303.3 237.3,305.4 238.0,305.6 238.6,304.7 239.2,304.3 239.9,302.1 240.5,302.2 241.1,305.2 241.7,307.1 242.4,308.5 243.0,308.1 243.6,305.5 244.3,304.3 244.9,304.9 245.5,306.0 246.1,306.8 246.8,307.6 247.4,308.7 248.0,307.0 248.7,304.1 249.3,304.7 249.9,307.5 250.6,307.5 251.2,304.8 251.8,305.5 252.4,309.4 253.1,309.9 253.7,307.6 254.3,307.3 255.0,308.6 255.6,308.8 256.2,307.3 256.8,305.6 257.5,307.0 258.1,309.6 258.7,309.4 259.4,307.9 260.0,308.8 260.6,310.8 261.2,311.5 261.9,312.5 262.5,313.3 263.1,313.7 263.8,313.8 264.4,313.2 265.0,312.2 265.7,310.1 266.3,309.4 266.9,311.5 267.5,312.2 268.2,312.2 268.8,314.9 269.4,315.0 270.1,311.2 270.7,309.2 271.3,309.7 271.9,312.1 272.6,314.0 273.2,313.0 273.8,311.9 274.5,313.1 275.1,314.5 275.7,315.4 276.4,314.1 277.0,311.4 277.6,311.7 278.2,314.4 278.9,315.1 279.5,313.5 280.1,312.8 280.8,313.9 281.4,315.2 282.0,316.7 282.6,315.7 283.3,312.3 283.9,311.9 284.5,314.3 285.2,314.2 285.8,312.5 286.4,313.2 287.1,313.6 287.7,312.4 288.3,311.5 288.9,310.7 289.6,311.5 290.2,313.4 290.8,313.8 291.5,314.3 292.1,315.9 292.7,314.9 293.3,313.7 294.0,314.2 294.6,312.8 295.2,312.3 295.9,313.0 296.5,312.4 297.1,311.5 297.8,311.6 298.4,313.4 299.0,314.3 299.6,312.7 300.3,310.3 300.9,311.5 301.5,314.5 302.2,315.3 302.8,314.9 303.4,314.0 304.0,311.7 304.7,311.6 305.3,314.0 305.9,313.3 306.6,312.9 307.2,314.6 307.8,314.9 308.5,314.6 309.1,313.4 309.7,313.5 310.3,314.4 311.0,313.4 311.6,312.4 312.2,311.7 312.9,311.4 313.5,311.5 314.1,311.5 314.7,312.0 315.4,313.7 316.0,314.7 316.6,313.1 317.3,311.0 317.9,311.9 318.5,315.6 319.1,315.1 319.8,313.6 320.4,315.3 321.0,313.8 321.7,310.2 322.3,311.2 322.9,313.4 323.6,311.9 324.2,310.8 324.8,311.9 325.4,312.9" fill="none" stroke="#ff4040" stroke-width="0.9" stroke-linejoin="round" /><polyline points="183.2,225.4 183.8,226.1 184.5,227.1 185.1,228.7 185.7,233.6 186.4,238.3 187.0,238.5 187.6,238.2 188.2,239.6 188.9,242.3 189.5,243.9 190.1,244.5 190.8,246.6 191.4,248.4 192.0,250.9 192.7,252.6 193.3,253.8 193.9,257.5 194.5,258.5 195.2,257.8 195.8,258.6 196.4,259.5 197.1,261.4 197.7,262.0 198.3,261.7 198.9,264.2 199.6,267.4 200.2,269.4 200.8,269.8 201.5,269.0 202.1,269.6 202.7,271.9 203.3,273.2 204.0,274.4 204.6,276.7 205.2,277.3 205.9,277.7 206.5,278.6 207.1,279.1 207.8,280.5 208.4,280.4 209.0,278.6 209.6,278.8 210.3,280.4 210.9,281.8 211.5,282.2 212.2,282.3 212.8,281.9 213.4,282.5 214.0,285.4 214.7,287.2 215.3,290.2 215.9,294.0 216.6,293.2 217.2,290.3 217.8,290.0 218.5,290.6 219.1,289.7 219.7,290.0 220.3,291.5 221.0,290.5 221.6,290.3 222.2,293.1 222.9,294.7 223.5,294.0 224.1,295.1 224.7,296.5 225.4,296.9 226.0,296.8 226.6,295.8 227.3,295.3 227.9,295.7 228.5,297.5 229.2,299.6 229.8,299.4 230.4,298.8 231.0,298.1 231.7,297.0 232.3,299.5 232.9,301.1 233.6,299.7 234.2,299.9 234.8,301.6 235.4,302.2 236.1,301.6 236.7,301.0 237.3,301.7 238.0,302.9 238.6,302.7 239.2,302.0 239.9,304.5 240.5,308.3 241.1,308.1 241.7,306.5 242.4,305.7 243.0,304.6 243.6,303.8 244.3,304.4 244.9,305.7 245.5,305.1 246.1,304.5 246.8,306.0 247.4,305.7 248.0,304.5 248.7,306.9 249.3,309.4 249.9,308.5 250.6,307.9 251.2,307.5 251.8,306.3 252.4,307.0 253.1,307.7 253.7,307.1 254.3,307.3 255.0,308.0 255.6,308.2 256.2,308.6 256.8,309.6 257.5,310.0 258.1,310.2 258.7,311.4 259.4,310.9 260.0,309.0 260.6,309.3 261.2,310.2 261.9,310.2 262.5,310.1 263.1,310.1 263.8,310.7 264.4,310.8 265.0,310.3 265.7,310.2 266.3,311.0 266.9,313.2 267.5,312.8 268.2,310.5 268.8,311.0 269.4,311.8 270.1,311.8 270.7,312.3 271.3,313.3 271.9,314.5 272.6,313.9 273.2,312.3 273.8,310.8 274.5,310.8 275.1,311.3 275.7,310.7 276.4,312.9 277.0,316.4 277.6,315.3 278.2,311.7 278.9,311.7 279.5,313.5 280.1,314.3 280.8,313.3 281.4,311.4 282.0,310.5 282.6,310.4 283.3,313.1 283.9,315.1 284.5,313.2 285.2,312.7 285.8,312.2 286.4,311.1 287.1,311.4 287.7,311.5 288.3,312.6 288.9,313.5 289.6,313.1 290.2,312.6 290.8,311.2 291.5,311.0 292.1,312.0 292.7,311.9 293.3,312.2 294.0,312.6 294.6,312.4 295.2,312.6 295.9,313.2 296.5,314.0 297.1,313.5 297.8,313.3 298.4,314.4 299.0,314.8 299.6,313.9 300.3,313.3 300.9,313.6 301.5,312.4 302.2,311.1 302.8,313.1 303.4,315.3 304.0,313.8 304.7,312.4 305.3,312.6 305.9,312.0 306.6,311.9 307.2,312.9 307.8,314.1 308.5,314.7 309.1,314.3 309.7,313.5 310.3,312.8 311.0,313.1 311.6,313.9 312.2,313.7 312.9,314.3 313.5,316.1 314.1,316.3 314.7,315.5 315.4,314.8 316.0,314.5 316.6,315.0 317.3,314.8 317.9,313.5 318.5,314.2 319.1,315.8 319.8,315.7 320.4,314.3 321.0,312.8 321.7,313.7 322.3,314.7 322.9,314.3 323.6,314.3 324.2,313.3 324.8,312.0 325.4,312.3" fill="none" stroke="#ff5a5a" stroke-width="0.8" stroke-linejoin="round" /><polyline points="183.2,224.6 183.8,226.7 184.5,228.8 185.1,230.8 185.7,232.8 186.4,234.7 187.0,236.6 187.6,238.5 188.2,240.3 188.9,242.0 189.5,243.7 190.1,245.4 190.8,247.1 191.4,248.6 192.0,250.2 192.7,251.7 193.3,253.2 193.9,254.7 194.5,256.1 195.2,257.5 195.8,258.8 196.4,260.1 197.1,261.4 197.7,262.7 198.3,263.9 198.9,265.1 199.6,266.3 200.2,267.4 200.8,268.5 201.5,269.6 202.1,270.7 202.7,271.7 203.3,272.7 204.0,273.7 204.6,274.7 205.2,275.6 205.9,276.6 206.5,277.4 207.1,278.3 207.8,279.2 208.4,280.0 209.0,280.8 209.6,281.6 210.3,282.4 210.9,283.2 211.5,283.9 212.2,284.6 212.8,285.3 213.4,286.0 214.0,286.7 214.7,287.4 215.3,288.0 215.9,288.6 216.6,289.2 217.2,289.8 217.8,290.4 218.5,291.0 219.1,291.6 219.7,292.1 220.3,292.6 221.0,293.1 221.6,293.7 222.2,294.1 222.9,294.6 223.5,295.1 224.1,295.6 224.7,296.0 225.4,296.4 226.0,296.9 226.6,297.3 227.3,297.7 227.9,298.1 228.5,298.5 229.2,298.9 229.8,299.2 230.4,299.6 231.0,299.9 231.7,300.3 232.3,300.6 232.9,301.0 233.6,301.3 234.2,301.6 234.8,301.9 235.4,302.2 236.1,302.5 236.7,302.8 237.3,303.0 238.0,303.3 238.6,303.6 239.2,303.8 239.9,304.1 240.5,304.3 241.1,304.6 241.7,304.8 242.4,305.0 243.0,305.3 243.6,305.5 244.3,305.7 244.9,305.9 245.5,306.1 246.1,306.3 246.8,306.5 247.4,306.7 248.0,306.9 248.7,307.1 249.3,307.2 249.9,307.4 250.6,307.6 251.2,307.7 251.8,307.9 252.4,308.1 253.1,308.2 253.7,308.4 254.3,308.5 255.0,308.6 255.6,308.8 256.2,308.9 256.8,309.0 257.5,309.2 258.1,309.3 258.7,309.4 259.4,309.5 260.0,309.7 260.6,309.8 261.2,309.9 261.9,310.0 262.5,310.1 263.1,310.2 263.8,310.3 264.4,310.4 265.0,310.5 265.7,310.6 266.3,310.7 266.9,310.8 267.5,310.9 268.2,311.0 268.8,311.0 269.4,311.1 270.1,311.2 270.7,311.3 271.3,311.4 271.9,311.4 272.6,311.5 273.2,311.6 273.8,311.6 274.5,311.7 275.1,311.8 275.7,311.8 276.4,311.9 277.0,312.0 277.6,312.0 278.2,312.1 278.9,312.1 279.5,312.2 280.1,312.2 280.8,312.3 281.4,312.4 282.0,312.4 282.6,312.5 283.3,312.5 283.9,312.5 284.5,312.6 285.2,312.6 285.8,312.7 286.4,312.7 287.1,312.8 287.7,312.8 288.3,312.8 288.9,312.9 289.6,312.9 290.2,313.0 290.8,313.0 291.5,313.0 292.1,313.1 292.7,313.1 293.3,313.1 294.0,313.2 294.6,313.2 295.2,313.2 295.9,313.3 296.5,313.3 297.1,313.3 297.8,313.3 298.4,313.4 299.0,313.4 299.6,313.4 300.3,313.5 300.9,313.5 301.5,313.5 302.2,313.5 302.8,313.5 303.4,313.6 304.0,313.6 304.7,313.6 305.3,313.6 305.9,313.7 306.6,313.7 307.2,313.7 307.8,313.7 308.5,313.7 309.1,313.7 309.7,313.8 310.3,313.8 311.0,313.8 311.6,313.8 312.2,313.8 312.9,313.8 313.5,313.9 314.1,313.9 314.7,313.9 315.4,313.9 316.0,313.9 316.6,313.9 317.3,313.9 317.9,314.0 318.5,314.0 319.1,314.0 319.8,314.0 320.4,314.0 321.0,314.0 321.7,314.0 322.3,314.0 322.9,314.1 323.6,314.1 324.2,314.1 324.8,314.1 325.4,314.1" fill="none" stroke="#000" stroke-width="1.7" stroke-linejoin="round" /></g>
<line x1="73.8" y1="7.0" x2="73.8" y2="325.5" stroke="#000" stroke-width="1.2"/><line x1="183.2" y1="7.0" x2="183.2" y2="325.5" stroke="#000" stroke-width="1.2"/>
<rect x="55.5" y="7.0" width="270.0" height="53.4" fill="none" stroke="#000" stroke-width="1.2"/><rect x="55.5" y="63.7" width="270.0" height="127.7" fill="none" stroke="#000" stroke-width="1.2"/><rect x="55.5" y="194.3" width="270.0" height="131.2" fill="none" stroke="#000" stroke-width="1.2"/>
<path d="M73.8,7.0v5.2M92.0,7.0v2.7M110.3,7.0v5.2M128.5,7.0v2.7M146.7,7.0v5.2M165.0,7.0v2.7M183.2,7.0v5.2M201.4,7.0v2.7M219.7,7.0v5.2M237.9,7.0v2.7M256.1,7.0v5.2M274.4,7.0v2.7M292.6,7.0v5.2M310.9,7.0v2.7M73.8,60.4v-5.2M92.0,60.4v-2.7M110.3,60.4v-5.2M128.5,60.4v-2.7M146.7,60.4v-5.2M165.0,60.4v-2.7M183.2,60.4v-5.2M201.4,60.4v-2.7M219.7,60.4v-5.2M237.9,60.4v-2.7M256.1,60.4v-5.2M274.4,60.4v-2.7M292.6,60.4v-5.2M310.9,60.4v-2.7M73.8,63.7v5.2M92.0,63.7v2.7M110.3,63.7v5.2M128.5,63.7v2.7M146.7,63.7v5.2M165.0,63.7v2.7M183.2,63.7v5.2M201.4,63.7v2.7M219.7,63.7v5.2M237.9,63.7v2.7M256.1,63.7v5.2M274.4,63.7v2.7M292.6,63.7v5.2M310.9,63.7v2.7M73.8,191.4v-5.2M92.0,191.4v-2.7M110.3,191.4v-5.2M128.5,191.4v-2.7M146.7,191.4v-5.2M165.0,191.4v-2.7M183.2,191.4v-5.2M201.4,191.4v-2.7M219.7,191.4v-5.2M237.9,191.4v-2.7M256.1,191.4v-5.2M274.4,191.4v-2.7M292.6,191.4v-5.2M310.9,191.4v-2.7M73.8,194.3v5.2M92.0,194.3v2.7M110.3,194.3v5.2M128.5,194.3v2.7M146.7,194.3v5.2M165.0,194.3v2.7M183.2,194.3v5.2M201.4,194.3v2.7M219.7,194.3v5.2M237.9,194.3v2.7M256.1,194.3v5.2M274.4,194.3v2.7M292.6,194.3v5.2M310.9,194.3v2.7M73.8,325.5v-5.2M92.0,325.5v-2.7M110.3,325.5v-5.2M128.5,325.5v-2.7M146.7,325.5v-5.2M165.0,325.5v-2.7M183.2,325.5v-5.2M201.4,325.5v-2.7M219.7,325.5v-5.2M237.9,325.5v-2.7M256.1,325.5v-5.2M274.4,325.5v-2.7M292.6,325.5v-5.2M310.9,325.5v-2.7M55.5,59.6h5.2M325.5,59.6h-5.2M55.5,31.6h5.2M325.5,31.6h-5.2M55.5,45.6h2.7M325.5,45.6h-2.7M55.5,17.6h2.7M325.5,17.6h-2.7M55.5,191.5h5.2M325.5,191.5h-5.2M55.5,159.3h5.2M325.5,159.3h-5.2M55.5,127.1h5.2M325.5,127.1h-5.2M55.5,94.9h5.2M325.5,94.9h-5.2M55.5,175.4h2.7M325.5,175.4h-2.7M55.5,143.2h2.7M325.5,143.2h-2.7M55.5,111.0h2.7M325.5,111.0h-2.7M55.5,78.8h2.7M325.5,78.8h-2.7M55.5,323.3h5.2M325.5,323.3h-5.2M55.5,286.6h5.2M325.5,286.6h-5.2M55.5,249.9h5.2M325.5,249.9h-5.2M55.5,213.2h5.2M325.5,213.2h-5.2M55.5,304.9h2.7M325.5,304.9h-2.7M55.5,268.2h2.7M325.5,268.2h-2.7M55.5,231.6h2.7M325.5,231.6h-2.7" stroke="#000" stroke-width="1.1" fill="none"/>
<g fill="#000">
<text x="49.7" y="36.2" text-anchor="end" font-size="15">10</text><text x="49.7" y="65.2" text-anchor="end" font-size="15">0</text><text x="49.7" y="196.2" text-anchor="end" font-size="15">0</text><text x="49.7" y="164.0" text-anchor="end" font-size="15">1</text><text x="49.7" y="131.8" text-anchor="end" font-size="15">2</text><text x="49.7" y="99.5" text-anchor="end" font-size="15">3</text><text x="49.7" y="327.9" text-anchor="end" font-size="15">0</text><text x="49.7" y="291.2" text-anchor="end" font-size="15">10</text><text x="49.7" y="254.6" text-anchor="end" font-size="15">20</text><text x="49.7" y="217.9" text-anchor="end" font-size="15">30</text><text x="73.8" y="343.0" text-anchor="middle" font-size="15">0</text><text x="110.3" y="343.0" text-anchor="middle" font-size="15">1</text><text x="146.7" y="343.0" text-anchor="middle" font-size="15">2</text><text x="183.2" y="343.0" text-anchor="middle" font-size="15">3</text><text x="219.7" y="343.0" text-anchor="middle" font-size="15">4</text><text x="256.1" y="343.0" text-anchor="middle" font-size="15">5</text><text x="292.6" y="343.0" text-anchor="middle" font-size="15">6</text><text x="190.2" y="367.6" text-anchor="middle" font-size="20.2">t (s)</text><text transform="translate(24.9,49) rotate(-90)" text-anchor="middle" font-size="18.8">j (A/cm<tspan dy="-8.6" font-size="12">2</tspan><tspan dy="8.6">)</tspan></text><text transform="translate(24.9,144.4) rotate(-90)" text-anchor="middle" font-size="18.8" word-spacing="1">ρ (Ωcm)</text><text transform="translate(24.9,266) rotate(-90)" text-anchor="middle" font-size="19" word-spacing="1.5">ΔT (K)</text><text x="251.8" y="37.3" font-size="19">300 K</text><text x="105.2" y="111.0" font-size="13.5" stroke="#2828ff" stroke-width="0.12" fill="#2828ff">τ<tspan dy="3.8" font-size="9.7">R</tspan></text><text x="122.3" y="111.0" font-size="13.5" stroke="#2828ff" stroke-width="0.12" fill="#2828ff">=</text><text x="174.8" y="111.0" font-size="13.5" text-anchor="end" stroke="#2828ff" stroke-width="0.12" fill="#2828ff">570ms</text><text x="101.4" y="147.3" font-size="13.5" stroke="#ff2020" stroke-width="0.12" fill="#ff2020">τ<tspan dy="3.8" font-size="9.7">R<tspan font-family="'Liberation Serif',serif">1</tspan></tspan></text><text x="121.5" y="147.3" font-size="13.5" stroke="#ff2020" stroke-width="0.12" fill="#ff2020">=</text><text x="174.8" y="147.3" font-size="13.5" text-anchor="end" stroke="#ff2020" stroke-width="0.12" fill="#ff2020">60ms</text><text x="101.4" y="175.8" font-size="13.5" stroke="#ff2020" stroke-width="0.12" fill="#ff2020">τ<tspan dy="3.8" font-size="9.7">R<tspan font-family="'Liberation Serif',serif">2</tspan></tspan></text><text x="121.5" y="175.8" font-size="13.5" stroke="#ff2020" stroke-width="0.12" fill="#ff2020">=</text><text x="174.8" y="175.8" font-size="13.5" text-anchor="end" stroke="#ff2020" stroke-width="0.12" fill="#ff2020">330ms</text><text x="238.8" y="110.9" font-size="13.5" stroke="#ff2020" stroke-width="0.12" fill="#ff2020">τ<tspan dy="3.8" font-size="9.7">RD</tspan></text><text x="261.5" y="110.9" font-size="13.5" stroke="#ff2020" stroke-width="0.12" fill="#ff2020">=</text><text x="315.3" y="110.9" font-size="13.5" text-anchor="end" stroke="#ff2020" stroke-width="0.12" fill="#ff2020">915ms</text><text x="108.2" y="247.2" font-size="13.5" stroke="#ff2020" stroke-width="0.12" fill="#ff2020">τ<tspan dy="3.8" font-size="9.7">T</tspan></text><text x="123.4" y="247.2" font-size="13.5" stroke="#ff2020" stroke-width="0.12" fill="#ff2020">=</text><text x="175.7" y="247.2" font-size="13.5" text-anchor="end" stroke="#ff2020" stroke-width="0.12" fill="#ff2020">320ms</text><text x="175.7" y="304.1" font-size="13.5" text-anchor="end" stroke="#2828ff" stroke-width="0.12" fill="#2828ff">610ms</text><text x="230.8" y="275.3" font-size="13.5" stroke="#ff2020" stroke-width="0.12" fill="#ff2020">τ<tspan dy="3.8" font-size="9.7">TD</tspan></text><text x="252.3" y="275.3" font-size="13.5" stroke="#ff2020" stroke-width="0.12" fill="#ff2020">=</text><text x="305.4" y="275.3" font-size="13.5" text-anchor="end" stroke="#ff2020" stroke-width="0.12" fill="#ff2020">720ms</text>
</g>
</svg>
</body></html>
